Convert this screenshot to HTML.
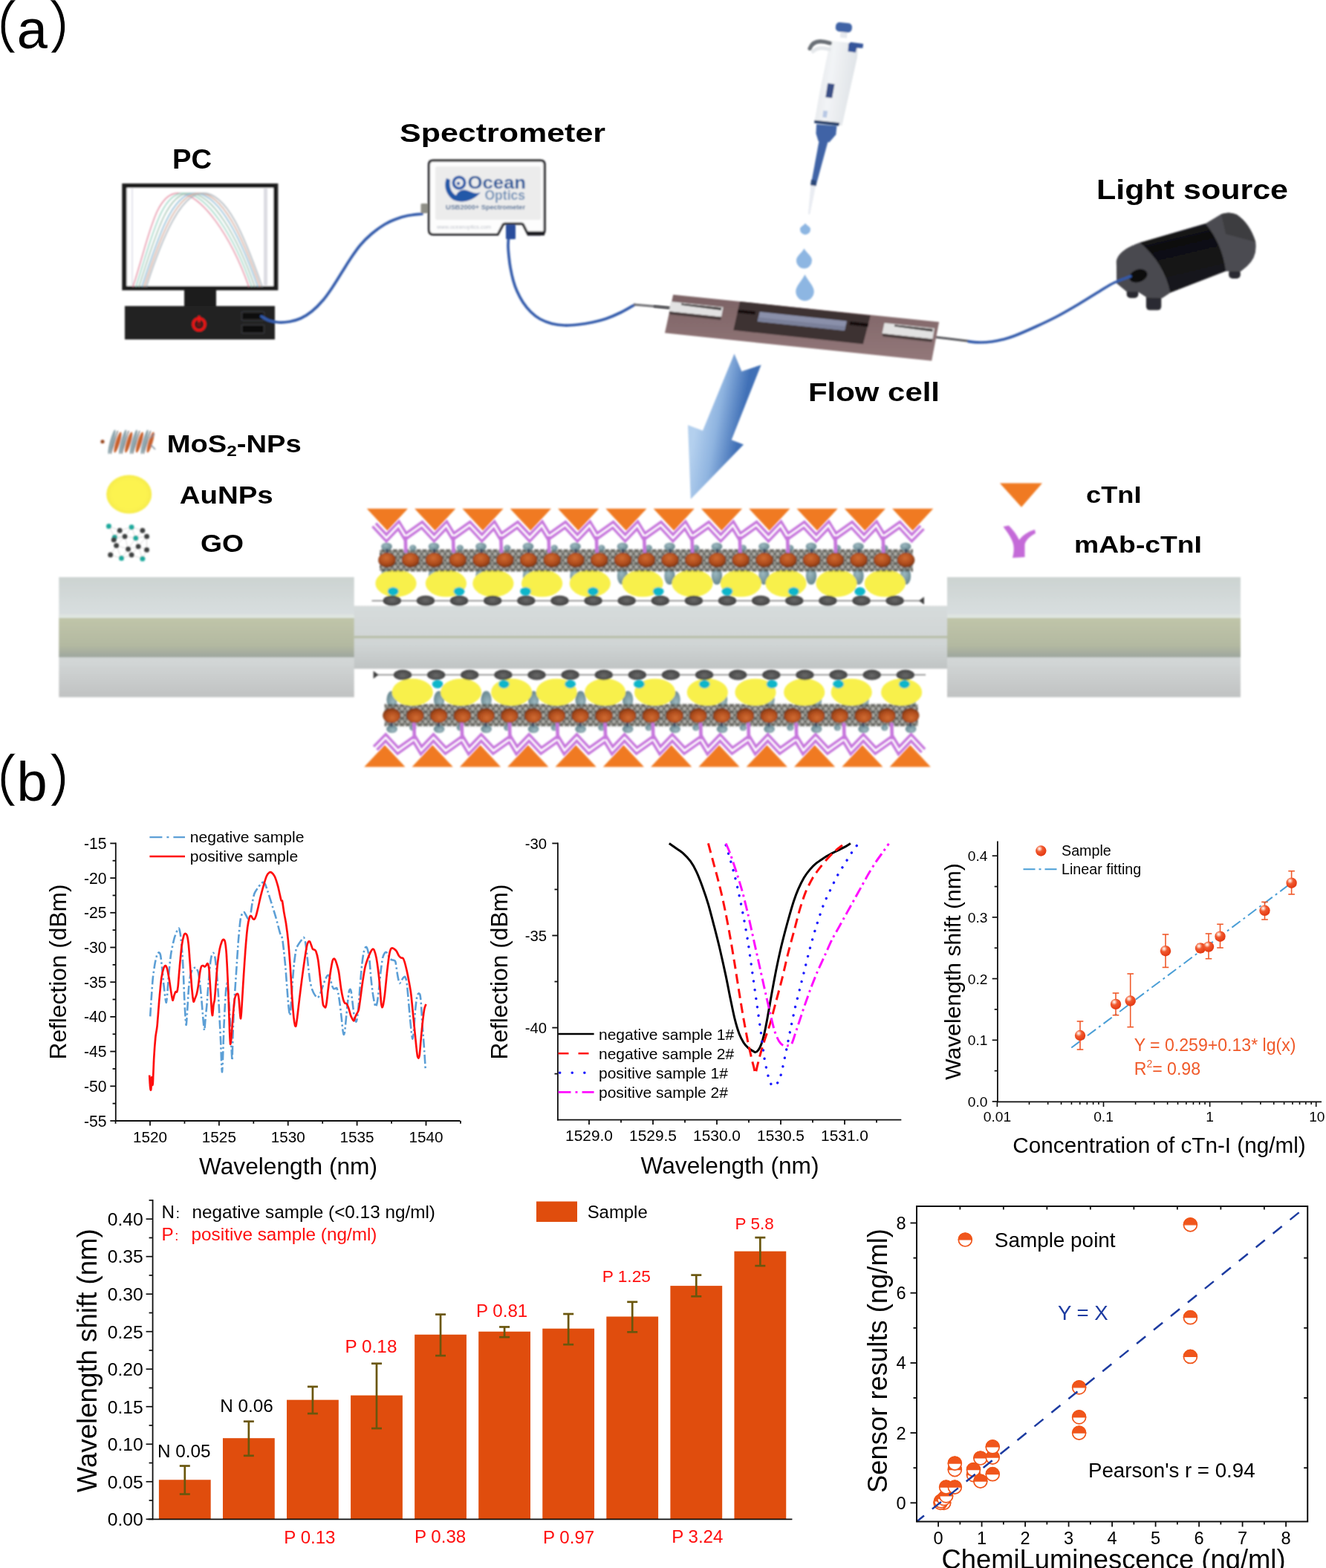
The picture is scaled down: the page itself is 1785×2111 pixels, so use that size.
<!DOCTYPE html>
<html lang="en"><head><meta charset="utf-8"><title>Figure</title>
<style>
html,body{margin:0;padding:0;background:#fff;}
body{width:1785px;height:2111px;overflow:hidden;}
svg{display:block;font-family:"Liberation Sans", Arial, Helvetica, sans-serif;}
</style></head><body>
<svg width="1785" height="2111" viewBox="0 0 1785 2111">
<defs>
<clipPath id="clipa"><rect x="0" y="0.3" width="100" height="70.4"/></clipPath>
<clipPath id="clipb"><rect x="0" y="1014.8" width="100" height="70"/></clipPath>
<filter id="soft" x="-5%" y="-5%" width="110%" height="110%"><feGaussianBlur stdDeviation="0.9"/></filter>
<filter id="soft2" x="-5%" y="-20%" width="110%" height="140%"><feGaussianBlur stdDeviation="0.6"/></filter>
<filter id="soft3" x="-5%" y="-5%" width="110%" height="110%"><feGaussianBlur stdDeviation="0.35"/></filter>
<linearGradient id="specg" x1="0" y1="0" x2="0" y2="1"><stop offset="0" stop-color="#ececee"/><stop offset="0.5" stop-color="#fafafa"/><stop offset="1" stop-color="#e4e4e6"/></linearGradient>
<linearGradient id="pipg" x1="0" y1="0" x2="1" y2="0.25"><stop offset="0" stop-color="#e0e4e8"/><stop offset="0.45" stop-color="#f2f4f6"/><stop offset="1" stop-color="#dfe3e7"/></linearGradient>
<linearGradient id="fcg" x1="0" y1="0" x2="0" y2="1"><stop offset="0" stop-color="#7c6264"/><stop offset="1" stop-color="#93787a"/></linearGradient>
<linearGradient id="lsg" x1="0" y1="0" x2="0.3" y2="1"><stop offset="0" stop-color="#2c2c30"/><stop offset="0.35" stop-color="#0e0e10"/><stop offset="1" stop-color="#1a1a1e"/></linearGradient>
<linearGradient id="arrg" x1="0" y1="0" x2="1" y2="0.35"><stop offset="0.25" stop-color="#b4d0ee"/><stop offset="0.5" stop-color="#8fb4e0"/><stop offset="0.8" stop-color="#3f6fb6"/></linearGradient>
<linearGradient id="thing" x1="0" y1="0" x2="0" y2="1"><stop offset="0" stop-color="#d6dbdb"/><stop offset="0.6" stop-color="#d0d5d5"/><stop offset="1" stop-color="#c0c4c4"/></linearGradient>
<linearGradient id="cladg" x1="0" y1="0" x2="0" y2="1"><stop offset="0" stop-color="#ccd3d1"/><stop offset="0.3" stop-color="#d8dedf"/><stop offset="0.7" stop-color="#d2d6d6"/><stop offset="1" stop-color="#c0c2c2"/></linearGradient>
<linearGradient id="coreg" x1="0" y1="0" x2="0" y2="1"><stop offset="0" stop-color="#c0c5a9"/><stop offset="0.7" stop-color="#b3b9a1"/><stop offset="1" stop-color="#9ea69e"/></linearGradient>
<radialGradient id="gog" cx="0.5" cy="0.45" r="0.6"><stop offset="0" stop-color="#6a6a6a"/><stop offset="1" stop-color="#3c3c3c"/></radialGradient>
<radialGradient id="gbg" cx="0.4" cy="0.35" r="0.7"><stop offset="0" stop-color="#9cb8c0"/><stop offset="1" stop-color="#64848c"/></radialGradient>
<radialGradient id="org" cx="0.45" cy="0.35" r="0.7"><stop offset="0" stop-color="#d06c32"/><stop offset="0.55" stop-color="#b24e1e"/><stop offset="1" stop-color="#743210"/></radialGradient>
<radialGradient id="aug" cx="0.5" cy="0.5" r="0.5"><stop offset="0.75" stop-color="#fcf350"/><stop offset="1" stop-color="#f6ec4c"/></radialGradient>
<radialGradient id="ball" cx="0.36" cy="0.3" r="0.75"><stop offset="0" stop-color="#fff"/><stop offset="0.16" stop-color="#fbc0ac"/><stop offset="0.38" stop-color="#f15a30"/><stop offset="1" stop-color="#e2340e"/></radialGradient>
<pattern id="mesh" width="7.925" height="8.75" patternUnits="userSpaceOnUse" x="512" y="737"><path d="M0 0 L7.925 8.75 M7.925 0 L0 8.75 M0 4.4 H7.925" stroke="#50504a" stroke-width="1.15" fill="none"/></pattern>
</defs>
<rect width="1785" height="2111" fill="#fff"/>
<g clip-path="url(#clipa)">
<text x="-57.3" y="68.1" font-size="84" font-family="'Liberation Sans','Noto Sans CJK SC',sans-serif" stroke="#fff" stroke-width="0.9">（</text>
<text x="62" y="68.1" font-size="84" font-family="'Liberation Sans','Noto Sans CJK SC',sans-serif" stroke="#fff" stroke-width="0.9">）</text>
</g>
<text x="22.8" y="64.6" font-size="74">a</text>
<g clip-path="url(#clipb)">
<text x="-57.3" y="1082.3" font-size="84" font-family="'Liberation Sans','Noto Sans CJK SC',sans-serif" stroke="#fff" stroke-width="0.9">（</text>
<text x="62" y="1082.3" font-size="84" font-family="'Liberation Sans','Noto Sans CJK SC',sans-serif" stroke="#fff" stroke-width="0.9">）</text>
</g>
<text x="22.5" y="1078" font-size="74">b</text>
<g filter="url(#soft)">
<rect x="164.3" y="247" width="210" height="143.8" fill="#1c1c1c"/>
<rect x="170.5" y="253" width="197.5" height="132" fill="#ffffff"/>
<rect x="177" y="254" width="2" height="130" fill="#e4e4ec"/>
<rect x="355" y="254" width="5" height="130" fill="#dcdce2"/>
<path d="M179 386 C201 318 209.4 260 239.4 260 C271.4 260 311 318 335 386" fill="none" stroke="#e890a8" stroke-width="1.8" opacity="0.95"/>
<path d="M183 386 C205 318 217 260 247 260 C279 260 315 318 339 386" fill="none" stroke="#9fd8c8" stroke-width="1.8" opacity="0.95"/>
<path d="M187 386 C209 318 224.6 260 254.6 260 C286.6 260 319 318 343 386" fill="none" stroke="#a8c8b8" stroke-width="1.8" opacity="0.95"/>
<path d="M191 386 C213 318 232.2 260 262.2 260 C294.2 260 323 318 347 386" fill="none" stroke="#8ec0d8" stroke-width="1.8" opacity="0.95"/>
<path d="M194 386 C216 318 237.9 260 267.9 260 C299.9 260 326 318 350 386" fill="none" stroke="#d8b0a0" stroke-width="1.8" opacity="0.95"/>
<path d="M197 386 C219 318 243.6 260 273.6 260 C305.6 260 329 318 353 386" fill="none" stroke="#b0b8c0" stroke-width="1.8" opacity="0.95"/>
<rect x="248" y="390" width="43" height="24" fill="#1c1c1c"/>
<rect x="168" y="412" width="202" height="45" fill="#222222"/>
<rect x="327" y="421.5" width="27" height="8" fill="#0c0c10" rx="1.5"/>
<rect x="327" y="439" width="27" height="8" fill="#0c0c10" rx="1.5"/>
<rect x="325" y="419.5" width="31" height="12" fill="none" rx="2" stroke="#33343a" stroke-width="1.5"/>
<rect x="325" y="437" width="31" height="12" fill="none" rx="2" stroke="#33343a" stroke-width="1.5"/>
<circle cx="268" cy="436.6" r="8" fill="none" stroke="#f01414" stroke-width="3.4"/>
<rect x="266.3" y="425" width="3.4" height="11" fill="#f01414" rx="1.5"/>
<circle cx="268" cy="437" r="3.6" fill="#6a1616"/>
<path d="M352 426 C353.67 426.92 358.17 430.17 362 431.5 C365.83 432.83 370.33 433.75 375 434 C379.67 434.25 385 433.92 390 433 C395 432.08 400 430.83 405 428.5 C410 426.17 415 423.08 420 419 C425 414.92 430.33 409.5 435 404 C439.67 398.5 443.73 392.33 448 386 C452.27 379.67 456.6 372.33 460.6 366 C464.6 359.67 467.93 354 472 348 C476.07 342 480.33 335.5 485 330 C489.67 324.5 494.5 319.67 500 315 C505.5 310.33 512.5 305.33 518 302 C523.5 298.67 528 296.92 533 295 C538 293.08 542.17 291.67 548 290.5 C553.83 289.33 564.67 288.42 568 288" fill="none" stroke="#335aaa" stroke-width="3.7" stroke-linecap="round"/>
<path d="M687.6 306 C687.17 308 685.6 314 685 318 C684.4 322 684 325.5 684 330 C684 334.5 684.5 340 685 345 C685.5 350 686 354.5 687 360 C688 365.5 689.5 372.67 691 378 C692.5 383.33 693.83 387.17 696 392 C698.17 396.83 700.9 402.33 704 407 C707.1 411.67 710.77 416.25 714.6 420 C718.43 423.75 722.27 426.88 727 429.5 C731.73 432.12 737.5 434.28 743 435.7 C748.5 437.12 754.17 437.78 760 438 C765.83 438.22 771.83 437.67 778 437 C784.17 436.33 790.67 435.33 797 434 C803.33 432.67 809.5 431.25 816 429 C822.5 426.75 829.67 423.58 836 420.5 C842.33 417.42 851 412.17 854 410.5" fill="none" stroke="#335aaa" stroke-width="3.7" stroke-linecap="round"/>
<line x1="853" y1="410" x2="905" y2="414.5" stroke="#6e6e72" stroke-width="3"/>
<path d="M583 216.2 H727.5 Q733.2 216.2 733.2 222 V309.5 Q733.2 315.7 727.5 315.7 H711 L705 303.5 Q704 301.2 701.5 301.2 H680 Q677.5 301.2 676.5 303.5 L670 315.7 H583 Q577.4 315.7 577.4 309.5 V222 Q577.4 216.2 583 216.2 Z" fill="#fdfdfd" stroke="#2a2a2e" stroke-width="3.2"/>
<rect x="586" y="224" width="142" height="72" fill="#ececec" rx="3"/>
<rect x="710" y="311.5" width="23" height="5.5" fill="#1e1e22"/>
<rect x="566.5" y="274" width="10" height="13" fill="#8e8e86" rx="1.5"/>
<rect x="681" y="302.5" width="13" height="19.5" fill="#2c4e9c" rx="1.5"/>
<path d="M601 240 C597 250 600 262 610 269 C620 274 636 272 647 259 C640 262 634 258 628 256 C622 254 616 258 614 263 C608 260 604 252 606 242 Z" fill="#2458a8"/>
<circle cx="618" cy="246" r="7.6" fill="none" stroke="#2458a8" stroke-width="3.8"/>
<circle cx="617" cy="247" r="2.2" fill="#2458a8"/>
<text x="629.5" y="254.3" font-size="23.5" font-weight="bold" fill="#2d5c9c" textLength="78.5" lengthAdjust="spacingAndGlyphs">Ocean</text>
<text x="652.5" y="268.8" font-size="18.5" font-weight="bold" fill="#7292b8" textLength="54.5" lengthAdjust="spacingAndGlyphs">Optics</text>
<text x="600" y="282" font-size="8.6" font-weight="bold" fill="#4f6f98" textLength="107" lengthAdjust="spacingAndGlyphs">USB2000+ Spectrometer</text>
<text x="588" y="307.5" font-size="7" fill="#c0c4cc" textLength="73" lengthAdjust="spacingAndGlyphs">www.oceanoptics.com</text>
</g>
<text x="232" y="227" font-size="37.5" font-weight="bold" textLength="53" lengthAdjust="spacingAndGlyphs" filter="url(#soft2)">PC</text>
<text x="538" y="191" font-size="35.8" font-weight="bold" textLength="277" lengthAdjust="spacingAndGlyphs" filter="url(#soft2)">Spectrometer</text>
<text x="1476" y="267.8" font-size="36.3" font-weight="bold" textLength="258" lengthAdjust="spacingAndGlyphs" filter="url(#soft2)">Light source</text>
<text x="1088" y="539.8" font-size="35" font-weight="bold" textLength="177" lengthAdjust="spacingAndGlyphs" filter="url(#soft2)">Flow cell</text>
<g filter="url(#soft)">
<path d="M1091.67 247.61 L1098.45 249.08 L1090.2 288.87 L1087.84 288.14 Z" fill="#e9ecf2"/>
<path d="M1102.73 188.65 L1114.66 190.13 L1098.45 249.82 L1091.67 248.78 Z" fill="#3f64a6"/>
<path d="M1092.11 241.71 L1099.04 243.18 L1098.45 250.55 L1091.08 249.37 Z" fill="#2a4678"/>
<path d="M1099.04 167.28 L1126.46 169.49 L1125.28 181.28 L1116.43 191.6 L1101.69 190.13 L1098.45 179.81" fill="#3f64a6"/>
<path d="M1117.91 54.83 L1155.05 58.95 L1154.02 76.64 L1133.38 169.2 L1096.54 163.3 L1103.17 125.28 L1112.01 82.54 Z" fill="url(#pipg)"/>
<path d="M1096.54 161.83 L1129.99 165.36 L1129.4 169.49 L1096.09 165.66 Z" fill="#263f6a"/>
<path d="M1114.22 112.01 L1123.51 113.19 L1120.12 131.91 L1111.27 130.88 Z" fill="#3a4f86"/>
<path d="M1108.33 148.86 L1114.22 149.59 L1112.75 158.44 L1107.3 157.7 Z" fill="#b8c8e4"/>
<path d="M1131.91 40.53 L1140.75 41.56 L1140.01 51.58 L1130.88 50.55 Z" fill="#e6e9ee"/>
<rect x="1124.89" y="30.65" width="22" height="12.4" rx="5" fill="#3f64a6" transform="rotate(6 1135.89 36.85)"/>
<path d="M1145.17 56.74 L1162.12 58.95 L1161.39 64.85 L1153.28 64.55 L1151.81 70.74 L1141.49 69.27 L1142.23 58.95 Z" fill="#34559a"/>
<path d="M1090.2 65.14 Q1095.8 50.85 1117.17 58.22" fill="none" stroke="#6a7076" stroke-width="5.5" stroke-linecap="round"/>
<path d="M1094.33 69.27 Q1101.69 61.9 1116.43 66.32" fill="none" stroke="#e4e7ea" stroke-width="5" stroke-linecap="round"/>
<path d="M1084 300.5 C1086.45 304.38 1091 304.8 1091 308.65 A7 7.35 0 0 1 1077 308.65 C1077 304.8 1081.55 304.38 1084 300.5 Z" fill="#8db6e2"/>
<path d="M1082.5 334.5 C1086.17 341.25 1093 344.7 1093 350.48 A10.5 11.03 0 0 1 1072 350.48 C1072 344.7 1078.83 341.25 1082.5 334.5 Z" fill="#8db6e2"/>
<path d="M1083.5 369.5 C1087.79 378.38 1095.75 385.4 1095.75 392.14 A12.25 12.86 0 0 1 1071.25 392.14 C1071.25 385.4 1079.21 378.38 1083.5 369.5 Z" fill="#8db6e2"/>
<line x1="880" y1="412.6" x2="905" y2="415" stroke="#55555a" stroke-width="3"/>
<line x1="1256" y1="453.5" x2="1306" y2="459.5" stroke="#55555a" stroke-width="3"/>
<path d="M906.19 396.71 L1264.14 433.38 L1254.16 485.76 L894.97 448.35 Z" fill="url(#fcg)"/>
<path d="M995.99 405.94 L1171.84 424.65 L1161.87 463.32 L987.26 444.61 Z" fill="#3c3030"/>
<path d="M993.49 416.67 L1017.19 419.16 L1016.19 423.4 L992.5 420.91 Z" fill="#141010"/>
<path d="M1144.41 432.63 L1169.35 435.38 L1168.35 440.12 L1143.41 437.37 Z" fill="#141010"/>
<path d="M1022.68 419.66 L1139.92 432.14 L1136.92 445.11 L1019.69 432.63 Z" fill="#8a90aa"/>
<path d="M1020.93 427.15 L1138.42 439.62 L1136.92 445.11 L1019.69 432.63 Z" fill="#7a809a"/>
<path d="M902.95 405.94 L973.54 413.43 L971.05 426.65 L900.7 419.16 Z" fill="#e2e2e2"/>
<path d="M917.07 408.44 L971.42 414.2 L970.72 417.73 L917.07 410.84 Z" fill="#3a3434"/>
<path d="M900.7 419.16 L971.05 426.65 L970.05 430.65 L901.7 423.16 Z" fill="#4a3e3e"/>
<path d="M1190.55 434.63 L1257.9 442.11 L1255.41 456.58 L1187.56 449.1 Z" fill="#e2e2e2"/>
<path d="M1204.02 437.13 L1255.88 442.89 L1255.21 446.41 L1204.02 439.53 Z" fill="#3a3434"/>
<path d="M1187.56 449.1 L1255.41 456.58 L1254.41 460.58 L1188.56 453.1 Z" fill="#4a3e3e"/>
<rect x="1516.73" y="387.01" width="15.65" height="14.29" fill="#2c2c30" rx="5"/>
<rect x="1542.86" y="395.17" width="20.41" height="22.45" fill="#2c2c30" rx="5"/>
<rect x="1654.15" y="362.52" width="15.65" height="12.52" fill="#2c2c30" rx="5"/>
<path d="M 1502.86 351.63 Q 1505.85 336.67 1534.42 326.87 L 1622.86 301.02 L 1643.95 288.37 Q 1655.51 284.29 1665.03 289.05 Q 1682.72 301.29 1690.2 325.78 Q 1692.93 346.19 1678.64 358.44 L 1670.48 365.24 L 1650.07 365.24 L 1575.24 394.08 L 1564.35 401.29 L 1543.95 400.61 L 1531.7 392.45 L 1516.73 392.45 L 1503.4 381.56 Z" fill="#4c4c51"/>
<path d="M 1534.42 326.87 L 1622.86 301.02 Q 1645.31 328.5 1650.07 364.56 L 1575.24 394.08 Q 1567.07 354.35 1534.42 326.87 Z" fill="url(#lsg)"/>
<path d="M 1643.95 288.37 Q 1655.51 284.29 1665.03 289.05 Q 1682.72 301.29 1690.2 325.78 L 1650.07 314.9 Z" fill="#3c3c40"/>
<path d="M 1502.86 351.63 Q 1505.85 336.67 1534.42 326.87 Q 1556.19 346.19 1567.07 376.12 L 1575.24 394.08 L 1564.35 401.29 L 1543.95 400.61 L 1531.7 392.45 L 1516.73 392.45 L 1503.4 381.56 Z" fill="#4a4a4f"/>
<ellipse cx="1532.38" cy="371.36" rx="12.5" ry="8.5" fill="#08080a" transform="rotate(-20 1532.38 371.36)"/>
<path d="M1304 459.8 C1306.67 460 1314.83 460.97 1320 461 C1325.17 461.03 1330 460.67 1335 460 C1340 459.33 1344.83 458.33 1350 457 C1355.17 455.67 1358.5 454.92 1366 452 C1373.5 449.08 1385.5 443.83 1395 439.5 C1404.5 435.17 1413.5 431 1423 426 C1432.5 421 1442.43 415.17 1452 409.5 C1461.57 403.83 1472.4 396.83 1480.4 392 C1488.4 387.17 1493.07 383.83 1500 380.5 C1506.93 377.17 1518.33 373.42 1522 372" fill="none" stroke="#335aaa" stroke-width="3.6" stroke-linecap="round"/>
<path d="M988.5 476.2 L998.4 499.9 L1024.6 491.2 L984.7 592.2 L1001 598.4 L929.8 672 L926 572.2 L946 579.7 Z" fill="url(#arrg)"/>
</g>
<g filter="url(#soft)">
<rect x="470" y="815.6" width="812" height="84.8" fill="url(#thing)"/>
<rect x="470" y="856" width="812" height="3.3" fill="#b8bfa9"/>
<rect x="79.3" y="777" width="397.4" height="161.6" fill="url(#cladg)"/>
<rect x="79.3" y="827.4" width="397.4" height="5" fill="#dfe5e1"/>
<rect x="79.3" y="832" width="397.4" height="52.9" fill="url(#coreg)"/>
<rect x="1275" y="777" width="395" height="161.6" fill="url(#cladg)"/>
<rect x="1275" y="827.4" width="395" height="5" fill="#dfe5e1"/>
<rect x="1275" y="832" width="395" height="52.9" fill="url(#coreg)"/>
<g id="layB"><ellipse cx="520.5" cy="775.5" rx="7.2" ry="11.5" fill="url(#gbg)"/>
<ellipse cx="584" cy="775.5" rx="7.2" ry="11.5" fill="url(#gbg)"/>
<ellipse cx="647.5" cy="775.5" rx="7.2" ry="11.5" fill="url(#gbg)"/>
<ellipse cx="711" cy="775.5" rx="7.2" ry="11.5" fill="url(#gbg)"/>
<ellipse cx="774.5" cy="775.5" rx="7.2" ry="11.5" fill="url(#gbg)"/>
<ellipse cx="838" cy="775.5" rx="7.2" ry="11.5" fill="url(#gbg)"/>
<ellipse cx="901.5" cy="775.5" rx="7.2" ry="11.5" fill="url(#gbg)"/>
<ellipse cx="965" cy="775.5" rx="7.2" ry="11.5" fill="url(#gbg)"/>
<ellipse cx="1028.5" cy="775.5" rx="7.2" ry="11.5" fill="url(#gbg)"/>
<ellipse cx="1092" cy="775.5" rx="7.2" ry="11.5" fill="url(#gbg)"/>
<ellipse cx="1155.5" cy="775.5" rx="7.2" ry="11.5" fill="url(#gbg)"/>
<ellipse cx="1219" cy="775.5" rx="7.2" ry="11.5" fill="url(#gbg)"/></g><g id="layY"><ellipse cx="533" cy="785.4" rx="27.6" ry="18.2" fill="#f8f04c"/>
<ellipse cx="600.4" cy="785.4" rx="27.6" ry="18.2" fill="#f8f04c"/>
<ellipse cx="663.9" cy="785.4" rx="27.6" ry="18.2" fill="#f8f04c"/>
<ellipse cx="729.6" cy="785.4" rx="27.6" ry="18.2" fill="#f8f04c"/>
<ellipse cx="794.3" cy="785.4" rx="27.6" ry="18.2" fill="#f8f04c"/>
<ellipse cx="865" cy="785.4" rx="27.6" ry="18.2" fill="#f8f04c"/>
<ellipse cx="932" cy="785.4" rx="27.6" ry="18.2" fill="#f8f04c"/>
<ellipse cx="997.4" cy="785.4" rx="27.6" ry="18.2" fill="#f8f04c"/>
<ellipse cx="1058" cy="785.4" rx="27.6" ry="18.2" fill="#f8f04c"/>
<ellipse cx="1126" cy="785.4" rx="27.6" ry="18.2" fill="#f8f04c"/>
<ellipse cx="1191.4" cy="785.4" rx="27.6" ry="18.2" fill="#f8f04c"/></g><g id="layA"><line x1="500.5" y1="808.8" x2="1240" y2="808.8" stroke="#7e7e7e" stroke-width="1.6"/>
<path d="M1244 803.6 L1244 814 L1237 808.8 Z" fill="#404040"/>
<ellipse cx="527.8" cy="808.7" rx="12.2" ry="7" fill="url(#gog)"/>
<ellipse cx="572.92" cy="808.7" rx="12.2" ry="7" fill="url(#gog)"/>
<ellipse cx="618.04" cy="808.7" rx="12.2" ry="7" fill="url(#gog)"/>
<ellipse cx="663.16" cy="808.7" rx="12.2" ry="7" fill="url(#gog)"/>
<ellipse cx="708.28" cy="808.7" rx="12.2" ry="7" fill="url(#gog)"/>
<ellipse cx="753.4" cy="808.7" rx="12.2" ry="7" fill="url(#gog)"/>
<ellipse cx="798.52" cy="808.7" rx="12.2" ry="7" fill="url(#gog)"/>
<ellipse cx="843.64" cy="808.7" rx="12.2" ry="7" fill="url(#gog)"/>
<ellipse cx="888.76" cy="808.7" rx="12.2" ry="7" fill="url(#gog)"/>
<ellipse cx="933.88" cy="808.7" rx="12.2" ry="7" fill="url(#gog)"/>
<ellipse cx="979" cy="808.7" rx="12.2" ry="7" fill="url(#gog)"/>
<ellipse cx="1024.12" cy="808.7" rx="12.2" ry="7" fill="url(#gog)"/>
<ellipse cx="1069.24" cy="808.7" rx="12.2" ry="7" fill="url(#gog)"/>
<ellipse cx="1114.36" cy="808.7" rx="12.2" ry="7" fill="url(#gog)"/>
<ellipse cx="1159.48" cy="808.7" rx="12.2" ry="7" fill="url(#gog)"/>
<ellipse cx="1204.6" cy="808.7" rx="12.2" ry="7" fill="url(#gog)"/>
<ellipse cx="529.2" cy="796.2" rx="7.4" ry="5.6" fill="#10b6ca"/>
<ellipse cx="618" cy="796.2" rx="7.4" ry="5.6" fill="#10b6ca"/>
<ellipse cx="707.5" cy="796.2" rx="7.4" ry="5.6" fill="#10b6ca"/>
<ellipse cx="798.3" cy="796.2" rx="7.4" ry="5.6" fill="#10b6ca"/>
<ellipse cx="886.2" cy="796.2" rx="7.4" ry="5.6" fill="#10b6ca"/>
<ellipse cx="979" cy="796.2" rx="7.4" ry="5.6" fill="#10b6ca"/>
<ellipse cx="1068.3" cy="796.2" rx="7.4" ry="5.6" fill="#10b6ca"/>
<ellipse cx="1157.5" cy="796.2" rx="7.4" ry="5.6" fill="#10b6ca"/></g><g id="layM"><rect x="511" y="741" width="718" height="27" fill="#94948e" opacity="0.75"/>
<rect x="511" y="739" width="718" height="31" fill="url(#mesh)"/>
<ellipse cx="520.5" cy="735.8" rx="7.4" ry="5.2" fill="url(#gbg)"/>
<rect x="519.6" y="739" width="2.8" height="8" fill="#3a4660"/>
<ellipse cx="555.75" cy="737.5" rx="4.6" ry="4" fill="url(#gbg)"/>
<ellipse cx="584" cy="735.8" rx="7.4" ry="5.2" fill="url(#gbg)"/>
<rect x="583.1" y="739" width="2.8" height="8" fill="#3a4660"/>
<ellipse cx="619.25" cy="737.5" rx="4.6" ry="4" fill="url(#gbg)"/>
<ellipse cx="647.5" cy="735.8" rx="7.4" ry="5.2" fill="url(#gbg)"/>
<rect x="646.6" y="739" width="2.8" height="8" fill="#3a4660"/>
<ellipse cx="682.75" cy="737.5" rx="4.6" ry="4" fill="url(#gbg)"/>
<ellipse cx="711" cy="735.8" rx="7.4" ry="5.2" fill="url(#gbg)"/>
<rect x="710.1" y="739" width="2.8" height="8" fill="#3a4660"/>
<ellipse cx="746.25" cy="737.5" rx="4.6" ry="4" fill="url(#gbg)"/>
<ellipse cx="774.5" cy="735.8" rx="7.4" ry="5.2" fill="url(#gbg)"/>
<rect x="773.6" y="739" width="2.8" height="8" fill="#3a4660"/>
<ellipse cx="809.75" cy="737.5" rx="4.6" ry="4" fill="url(#gbg)"/>
<ellipse cx="838" cy="735.8" rx="7.4" ry="5.2" fill="url(#gbg)"/>
<rect x="837.1" y="739" width="2.8" height="8" fill="#3a4660"/>
<ellipse cx="873.25" cy="737.5" rx="4.6" ry="4" fill="url(#gbg)"/>
<ellipse cx="901.5" cy="735.8" rx="7.4" ry="5.2" fill="url(#gbg)"/>
<rect x="900.6" y="739" width="2.8" height="8" fill="#3a4660"/>
<ellipse cx="936.75" cy="737.5" rx="4.6" ry="4" fill="url(#gbg)"/>
<ellipse cx="965" cy="735.8" rx="7.4" ry="5.2" fill="url(#gbg)"/>
<rect x="964.1" y="739" width="2.8" height="8" fill="#3a4660"/>
<ellipse cx="1000.25" cy="737.5" rx="4.6" ry="4" fill="url(#gbg)"/>
<ellipse cx="1028.5" cy="735.8" rx="7.4" ry="5.2" fill="url(#gbg)"/>
<rect x="1027.6" y="739" width="2.8" height="8" fill="#3a4660"/>
<ellipse cx="1063.75" cy="737.5" rx="4.6" ry="4" fill="url(#gbg)"/>
<ellipse cx="1092" cy="735.8" rx="7.4" ry="5.2" fill="url(#gbg)"/>
<rect x="1091.1" y="739" width="2.8" height="8" fill="#3a4660"/>
<ellipse cx="1127.25" cy="737.5" rx="4.6" ry="4" fill="url(#gbg)"/>
<ellipse cx="1155.5" cy="735.8" rx="7.4" ry="5.2" fill="url(#gbg)"/>
<rect x="1154.6" y="739" width="2.8" height="8" fill="#3a4660"/>
<ellipse cx="1190.75" cy="737.5" rx="4.6" ry="4" fill="url(#gbg)"/>
<ellipse cx="1219" cy="735.8" rx="7.4" ry="5.2" fill="url(#gbg)"/>
<rect x="1218.1" y="739" width="2.8" height="8" fill="#3a4660"/>
<ellipse cx="521" cy="754" rx="11.6" ry="9.8" fill="url(#org)" stroke="#5a3018" stroke-width="0.8" stroke-opacity="0.6"/>
<ellipse cx="552.75" cy="754" rx="11.6" ry="9.8" fill="url(#org)" stroke="#5a3018" stroke-width="0.8" stroke-opacity="0.6"/>
<ellipse cx="584.5" cy="754" rx="11.6" ry="9.8" fill="url(#org)" stroke="#5a3018" stroke-width="0.8" stroke-opacity="0.6"/>
<ellipse cx="616.25" cy="754" rx="11.6" ry="9.8" fill="url(#org)" stroke="#5a3018" stroke-width="0.8" stroke-opacity="0.6"/>
<ellipse cx="648" cy="754" rx="11.6" ry="9.8" fill="url(#org)" stroke="#5a3018" stroke-width="0.8" stroke-opacity="0.6"/>
<ellipse cx="679.75" cy="754" rx="11.6" ry="9.8" fill="url(#org)" stroke="#5a3018" stroke-width="0.8" stroke-opacity="0.6"/>
<ellipse cx="711.5" cy="754" rx="11.6" ry="9.8" fill="url(#org)" stroke="#5a3018" stroke-width="0.8" stroke-opacity="0.6"/>
<ellipse cx="743.25" cy="754" rx="11.6" ry="9.8" fill="url(#org)" stroke="#5a3018" stroke-width="0.8" stroke-opacity="0.6"/>
<ellipse cx="775" cy="754" rx="11.6" ry="9.8" fill="url(#org)" stroke="#5a3018" stroke-width="0.8" stroke-opacity="0.6"/>
<ellipse cx="806.75" cy="754" rx="11.6" ry="9.8" fill="url(#org)" stroke="#5a3018" stroke-width="0.8" stroke-opacity="0.6"/>
<ellipse cx="838.5" cy="754" rx="11.6" ry="9.8" fill="url(#org)" stroke="#5a3018" stroke-width="0.8" stroke-opacity="0.6"/>
<ellipse cx="870.25" cy="754" rx="11.6" ry="9.8" fill="url(#org)" stroke="#5a3018" stroke-width="0.8" stroke-opacity="0.6"/>
<ellipse cx="902" cy="754" rx="11.6" ry="9.8" fill="url(#org)" stroke="#5a3018" stroke-width="0.8" stroke-opacity="0.6"/>
<ellipse cx="933.75" cy="754" rx="11.6" ry="9.8" fill="url(#org)" stroke="#5a3018" stroke-width="0.8" stroke-opacity="0.6"/>
<ellipse cx="965.5" cy="754" rx="11.6" ry="9.8" fill="url(#org)" stroke="#5a3018" stroke-width="0.8" stroke-opacity="0.6"/>
<ellipse cx="997.25" cy="754" rx="11.6" ry="9.8" fill="url(#org)" stroke="#5a3018" stroke-width="0.8" stroke-opacity="0.6"/>
<ellipse cx="1029" cy="754" rx="11.6" ry="9.8" fill="url(#org)" stroke="#5a3018" stroke-width="0.8" stroke-opacity="0.6"/>
<ellipse cx="1060.75" cy="754" rx="11.6" ry="9.8" fill="url(#org)" stroke="#5a3018" stroke-width="0.8" stroke-opacity="0.6"/>
<ellipse cx="1092.5" cy="754" rx="11.6" ry="9.8" fill="url(#org)" stroke="#5a3018" stroke-width="0.8" stroke-opacity="0.6"/>
<ellipse cx="1124.25" cy="754" rx="11.6" ry="9.8" fill="url(#org)" stroke="#5a3018" stroke-width="0.8" stroke-opacity="0.6"/>
<ellipse cx="1156" cy="754" rx="11.6" ry="9.8" fill="url(#org)" stroke="#5a3018" stroke-width="0.8" stroke-opacity="0.6"/>
<ellipse cx="1187.75" cy="754" rx="11.6" ry="9.8" fill="url(#org)" stroke="#5a3018" stroke-width="0.8" stroke-opacity="0.6"/>
<ellipse cx="1219.5" cy="754" rx="11.6" ry="9.8" fill="url(#org)" stroke="#5a3018" stroke-width="0.8" stroke-opacity="0.6"/></g><g id="layP"><path d="M505.97 704.49 L520.13 719.77 L537.15 701.93 L546.82 717.84 L568.42 702.5 L584.43 719.77 L601.45 701.93 L611.12 717.84 L632.72 702.5 L648.73 719.77 L665.75 701.93 L675.42 717.84 L697.02 702.5 L713.03 719.77 L730.05 701.93 L739.72 717.84 L761.32 702.5 L777.33 719.77 L794.35 701.93 L804.02 717.84 L825.62 702.5 L841.63 719.77 L858.65 701.93 L868.32 717.84 L889.92 702.5 L905.93 719.77 L922.95 701.93 L932.62 717.84 L954.22 702.5 L970.23 719.77 L987.25 701.93 L996.92 717.84 L1018.52 702.5 L1034.53 719.77 L1051.55 701.93 L1061.22 717.84 L1082.82 702.5 L1098.83 719.77 L1115.85 701.93 L1125.52 717.84 L1147.12 702.5 L1163.13 719.77 L1180.15 701.93 L1189.82 717.84 L1211.42 702.5 L1227.46 719.81 L1239.18 707.83" fill="none" stroke="#c676dc" stroke-width="3.4" stroke-linejoin="miter" stroke-miterlimit="6"/>
<path d="M501.43 708.71 L520.07 728.83 L536.05 712.07 L544.98 726.76 L567.58 710.7 L584.37 728.83 L600.35 712.07 L609.28 726.76 L631.88 710.7 L648.67 728.83 L664.65 712.07 L673.58 726.76 L696.18 710.7 L712.97 728.83 L728.95 712.07 L737.88 726.76 L760.48 710.7 L777.27 728.83 L793.25 712.07 L802.18 726.76 L824.78 710.7 L841.57 728.83 L857.55 712.07 L866.48 726.76 L889.08 710.7 L905.87 728.83 L921.85 712.07 L930.78 726.76 L953.38 710.7 L970.17 728.83 L986.15 712.07 L995.08 726.76 L1017.68 710.7 L1034.47 728.83 L1050.45 712.07 L1059.38 726.76 L1081.98 710.7 L1098.77 728.83 L1114.75 712.07 L1123.68 726.76 L1146.28 710.7 L1163.07 728.83 L1179.05 712.07 L1187.98 726.76 L1210.58 710.7 L1227.34 728.79 L1243.62 712.17" fill="none" stroke="#c676dc" stroke-width="3.4" stroke-linejoin="miter" stroke-miterlimit="6"/>
<path d="M545.7 722 L546.3 744" fill="none" stroke="#c676dc" stroke-width="4.6"/>
<path d="M610 722 L610.6 744" fill="none" stroke="#c676dc" stroke-width="4.6"/>
<path d="M674.3 722 L674.9 744" fill="none" stroke="#c676dc" stroke-width="4.6"/>
<path d="M738.6 722 L739.2 744" fill="none" stroke="#c676dc" stroke-width="4.6"/>
<path d="M802.9 722 L803.5 744" fill="none" stroke="#c676dc" stroke-width="4.6"/>
<path d="M867.2 722 L867.8 744" fill="none" stroke="#c676dc" stroke-width="4.6"/>
<path d="M931.5 722 L932.1 744" fill="none" stroke="#c676dc" stroke-width="4.6"/>
<path d="M995.8 722 L996.4 744" fill="none" stroke="#c676dc" stroke-width="4.6"/>
<path d="M1060.1 722 L1060.7 744" fill="none" stroke="#c676dc" stroke-width="4.6"/>
<path d="M1124.4 722 L1125 744" fill="none" stroke="#c676dc" stroke-width="4.6"/>
<path d="M1188.7 722 L1189.3 744" fill="none" stroke="#c676dc" stroke-width="4.6"/>
<path d="M493.8 684.7 L549 684.7 L521.4 714.4 Z" fill="#f07a22"/>
<path d="M558.1 684.7 L613.3 684.7 L585.7 714.4 Z" fill="#f07a22"/>
<path d="M622.4 684.7 L677.6 684.7 L650 714.4 Z" fill="#f07a22"/>
<path d="M686.7 684.7 L741.9 684.7 L714.3 714.4 Z" fill="#f07a22"/>
<path d="M751 684.7 L806.2 684.7 L778.6 714.4 Z" fill="#f07a22"/>
<path d="M815.3 684.7 L870.5 684.7 L842.9 714.4 Z" fill="#f07a22"/>
<path d="M879.6 684.7 L934.8 684.7 L907.2 714.4 Z" fill="#f07a22"/>
<path d="M943.9 684.7 L999.1 684.7 L971.5 714.4 Z" fill="#f07a22"/>
<path d="M1008.2 684.7 L1063.4 684.7 L1035.8 714.4 Z" fill="#f07a22"/>
<path d="M1072.5 684.7 L1127.7 684.7 L1100.1 714.4 Z" fill="#f07a22"/>
<path d="M1136.8 684.7 L1192 684.7 L1164.4 714.4 Z" fill="#f07a22"/>
<path d="M1201.1 684.7 L1256.3 684.7 L1228.7 714.4 Z" fill="#f07a22"/></g>
<use href="#layB" transform="rotate(180 873.3 858.65)"/><use href="#layM" transform="rotate(180 873.3 858.65)"/><use href="#layY" transform="rotate(180 873.3 858.65)"/><use href="#layA" transform="rotate(180 873.3 858.65)"/><use href="#layP" transform="rotate(180 873.3 858.65)"/>
<ellipse cx="158.5" cy="595.5" rx="2.9" ry="14.5" fill="#c8622e" transform="rotate(17 158.5 595.5)"/>
<ellipse cx="173.2" cy="595.5" rx="2.9" ry="14.5" fill="#c8622e" transform="rotate(17 173.2 595.5)"/>
<ellipse cx="187.9" cy="595.5" rx="2.9" ry="14.5" fill="#c8622e" transform="rotate(17 187.9 595.5)"/>
<ellipse cx="202.6" cy="595.5" rx="2.9" ry="14.5" fill="#c8622e" transform="rotate(17 202.6 595.5)"/>
<ellipse cx="150.5" cy="595" rx="2.7" ry="17" fill="#8fa6ae" transform="rotate(15 150.5 595)"/>
<path d="M149 611 L158.5 580" stroke="#565a5c" stroke-width="1.1"/>
<ellipse cx="165.2" cy="595" rx="2.7" ry="17" fill="#8fa6ae" transform="rotate(15 165.2 595)"/>
<path d="M163.7 611 L173.2 580" stroke="#565a5c" stroke-width="1.1"/>
<ellipse cx="179.9" cy="595" rx="2.7" ry="17" fill="#8fa6ae" transform="rotate(15 179.9 595)"/>
<path d="M178.4 611 L187.9 580" stroke="#565a5c" stroke-width="1.1"/>
<ellipse cx="194.6" cy="595" rx="2.7" ry="17" fill="#8fa6ae" transform="rotate(15 194.6 595)"/>
<path d="M193.1 611 L202.6 580" stroke="#565a5c" stroke-width="1.1"/>
<circle cx="138" cy="594.5" r="2.6" fill="#9a4a20"/>
<line x1="202" y1="590" x2="208" y2="584" stroke="#7a8a96" stroke-width="1.6"/>
<line x1="203" y1="599" x2="209" y2="605" stroke="#7a8a96" stroke-width="1.6"/>
<ellipse cx="173.7" cy="665.4" rx="30.5" ry="26" fill="url(#aug)"/>
<line x1="146.49" y1="708.53" x2="161.22" y2="714.2" stroke="#d4d0d0" stroke-width="0.8"/>
<line x1="146.49" y1="708.53" x2="154.42" y2="723.27" stroke="#d4d0d0" stroke-width="0.8"/>
<line x1="161.22" y1="714.2" x2="177.1" y2="709.66" stroke="#d4d0d0" stroke-width="0.8"/>
<line x1="161.22" y1="714.2" x2="168.03" y2="722.13" stroke="#d4d0d0" stroke-width="0.8"/>
<line x1="161.22" y1="714.2" x2="154.42" y2="723.27" stroke="#d4d0d0" stroke-width="0.8"/>
<line x1="161.22" y1="714.2" x2="153.29" y2="726.67" stroke="#d4d0d0" stroke-width="0.8"/>
<line x1="177.1" y1="709.66" x2="191.84" y2="714.2" stroke="#d4d0d0" stroke-width="0.8"/>
<line x1="177.1" y1="709.66" x2="168.03" y2="722.13" stroke="#d4d0d0" stroke-width="0.8"/>
<line x1="177.1" y1="709.66" x2="182.77" y2="724.4" stroke="#d4d0d0" stroke-width="0.8"/>
<line x1="191.84" y1="714.2" x2="182.77" y2="724.4" stroke="#d4d0d0" stroke-width="0.8"/>
<line x1="191.84" y1="714.2" x2="197.51" y2="722.13" stroke="#d4d0d0" stroke-width="0.8"/>
<line x1="168.03" y1="722.13" x2="182.77" y2="724.4" stroke="#d4d0d0" stroke-width="0.8"/>
<line x1="168.03" y1="722.13" x2="154.42" y2="723.27" stroke="#d4d0d0" stroke-width="0.8"/>
<line x1="168.03" y1="722.13" x2="153.29" y2="726.67" stroke="#d4d0d0" stroke-width="0.8"/>
<line x1="168.03" y1="722.13" x2="156.69" y2="734.6" stroke="#d4d0d0" stroke-width="0.8"/>
<line x1="168.03" y1="722.13" x2="172.56" y2="739.14" stroke="#d4d0d0" stroke-width="0.8"/>
<line x1="182.77" y1="724.4" x2="197.51" y2="722.13" stroke="#d4d0d0" stroke-width="0.8"/>
<line x1="182.77" y1="724.4" x2="172.56" y2="739.14" stroke="#d4d0d0" stroke-width="0.8"/>
<line x1="182.77" y1="724.4" x2="186.17" y2="735.74" stroke="#d4d0d0" stroke-width="0.8"/>
<line x1="197.51" y1="722.13" x2="186.17" y2="735.74" stroke="#d4d0d0" stroke-width="0.8"/>
<line x1="197.51" y1="722.13" x2="197.51" y2="740.27" stroke="#d4d0d0" stroke-width="0.8"/>
<line x1="154.42" y1="723.27" x2="153.29" y2="726.67" stroke="#d4d0d0" stroke-width="0.8"/>
<line x1="154.42" y1="723.27" x2="156.69" y2="734.6" stroke="#d4d0d0" stroke-width="0.8"/>
<line x1="153.29" y1="726.67" x2="156.69" y2="734.6" stroke="#d4d0d0" stroke-width="0.8"/>
<line x1="156.69" y1="734.6" x2="172.56" y2="739.14" stroke="#d4d0d0" stroke-width="0.8"/>
<line x1="156.69" y1="734.6" x2="148.75" y2="747.07" stroke="#d4d0d0" stroke-width="0.8"/>
<line x1="156.69" y1="734.6" x2="163.49" y2="751.61" stroke="#d4d0d0" stroke-width="0.8"/>
<line x1="172.56" y1="739.14" x2="186.17" y2="735.74" stroke="#d4d0d0" stroke-width="0.8"/>
<line x1="172.56" y1="739.14" x2="163.49" y2="751.61" stroke="#d4d0d0" stroke-width="0.8"/>
<line x1="172.56" y1="739.14" x2="177.1" y2="747.07" stroke="#d4d0d0" stroke-width="0.8"/>
<line x1="186.17" y1="735.74" x2="197.51" y2="740.27" stroke="#d4d0d0" stroke-width="0.8"/>
<line x1="186.17" y1="735.74" x2="177.1" y2="747.07" stroke="#d4d0d0" stroke-width="0.8"/>
<line x1="186.17" y1="735.74" x2="191.84" y2="752.29" stroke="#d4d0d0" stroke-width="0.8"/>
<line x1="197.51" y1="740.27" x2="191.84" y2="752.29" stroke="#d4d0d0" stroke-width="0.8"/>
<line x1="148.75" y1="747.07" x2="163.49" y2="751.61" stroke="#d4d0d0" stroke-width="0.8"/>
<line x1="163.49" y1="751.61" x2="177.1" y2="747.07" stroke="#d4d0d0" stroke-width="0.8"/>
<line x1="177.1" y1="747.07" x2="191.84" y2="752.29" stroke="#d4d0d0" stroke-width="0.8"/>
<circle cx="146.49" cy="708.53" r="3.5" fill="#1fa99c"/>
<circle cx="161.22" cy="714.2" r="3.5" fill="#3c4040"/>
<circle cx="177.1" cy="709.66" r="3.5" fill="#1fa99c"/>
<circle cx="191.84" cy="714.2" r="3.5" fill="#3c4040"/>
<circle cx="168.03" cy="722.13" r="3.5" fill="#3c4040"/>
<circle cx="182.77" cy="724.4" r="3.5" fill="#1fa99c"/>
<circle cx="197.51" cy="722.13" r="3.5" fill="#3c4040"/>
<circle cx="154.42" cy="723.27" r="3.5" fill="#1fa99c"/>
<circle cx="153.29" cy="726.67" r="3.5" fill="#3c4040"/>
<circle cx="156.69" cy="734.6" r="3.5" fill="#3c4040"/>
<circle cx="172.56" cy="739.14" r="3.5" fill="#3c4040"/>
<circle cx="186.17" cy="735.74" r="3.5" fill="#3c4040"/>
<circle cx="197.51" cy="740.27" r="3.5" fill="#3c4040"/>
<circle cx="148.75" cy="747.07" r="3.5" fill="#3c4040"/>
<circle cx="163.49" cy="751.61" r="3.5" fill="#1fa99c"/>
<circle cx="177.1" cy="747.07" r="3.5" fill="#3c4040"/>
<circle cx="191.84" cy="752.29" r="3.5" fill="#1fa99c"/>
<path d="M1345.9 650.5 L1403 650.5 L1375 682.8 Z" fill="#f07a22"/>
<path d="M1350.5 709 L1358 707.5 C1364 714 1369 720 1372 727 C1376 721 1383 716 1393 713 L1394 718 C1386 722 1381 727 1379.5 733 L1379.5 750 L1363 751 C1365.5 742 1365.5 734 1362 727 C1359 720 1354 714 1350.5 709 Z" fill="#c46ad8"/>
</g>
<text x="224.7" y="608.8" font-size="33" font-weight="bold" textLength="181" lengthAdjust="spacingAndGlyphs" filter="url(#soft2)">MoS<tspan font-size="21" dy="5.5">2</tspan><tspan dy="-5.5">-NPs</tspan></text>
<text x="241.7" y="678" font-size="33" font-weight="bold" textLength="126" lengthAdjust="spacingAndGlyphs" filter="url(#soft2)">AuNPs</text>
<text x="270" y="742.5" font-size="33" font-weight="bold" textLength="58" lengthAdjust="spacingAndGlyphs" filter="url(#soft2)">GO</text>
<text x="1462" y="677" font-size="30.5" font-weight="bold" textLength="74.5" lengthAdjust="spacingAndGlyphs" filter="url(#soft2)">cTnI</text>
<text x="1446" y="743.6" font-size="30.5" font-weight="bold" textLength="172" lengthAdjust="spacingAndGlyphs" filter="url(#soft2)">mAb-cTnI</text>
<g filter="url(#soft3)">
<line x1="155.8" y1="1134.4" x2="155.8" y2="1510" stroke="#111" stroke-width="1.8"/>
<line x1="154.8" y1="1509" x2="619.4" y2="1509" stroke="#111" stroke-width="1.8"/>
<line x1="148.3" y1="1135.4" x2="155.8" y2="1135.4" stroke="#111" stroke-width="1.8"/>
<text x="143.6" y="1142.9" font-size="21.2" text-anchor="end">-15</text>
<line x1="151.6" y1="1158.75" x2="155.8" y2="1158.75" stroke="#111" stroke-width="1.8"/>
<line x1="148.3" y1="1182.1" x2="155.8" y2="1182.1" stroke="#111" stroke-width="1.8"/>
<text x="143.6" y="1189.6" font-size="21.2" text-anchor="end">-20</text>
<line x1="151.6" y1="1205.45" x2="155.8" y2="1205.45" stroke="#111" stroke-width="1.8"/>
<line x1="148.3" y1="1228.8" x2="155.8" y2="1228.8" stroke="#111" stroke-width="1.8"/>
<text x="143.6" y="1236.3" font-size="21.2" text-anchor="end">-25</text>
<line x1="151.6" y1="1252.15" x2="155.8" y2="1252.15" stroke="#111" stroke-width="1.8"/>
<line x1="148.3" y1="1275.5" x2="155.8" y2="1275.5" stroke="#111" stroke-width="1.8"/>
<text x="143.6" y="1283" font-size="21.2" text-anchor="end">-30</text>
<line x1="151.6" y1="1298.85" x2="155.8" y2="1298.85" stroke="#111" stroke-width="1.8"/>
<line x1="148.3" y1="1322.2" x2="155.8" y2="1322.2" stroke="#111" stroke-width="1.8"/>
<text x="143.6" y="1329.7" font-size="21.2" text-anchor="end">-35</text>
<line x1="151.6" y1="1345.55" x2="155.8" y2="1345.55" stroke="#111" stroke-width="1.8"/>
<line x1="148.3" y1="1368.9" x2="155.8" y2="1368.9" stroke="#111" stroke-width="1.8"/>
<text x="143.6" y="1376.4" font-size="21.2" text-anchor="end">-40</text>
<line x1="151.6" y1="1392.25" x2="155.8" y2="1392.25" stroke="#111" stroke-width="1.8"/>
<line x1="148.3" y1="1415.6" x2="155.8" y2="1415.6" stroke="#111" stroke-width="1.8"/>
<text x="143.6" y="1423.1" font-size="21.2" text-anchor="end">-45</text>
<line x1="151.6" y1="1438.95" x2="155.8" y2="1438.95" stroke="#111" stroke-width="1.8"/>
<line x1="148.3" y1="1462.3" x2="155.8" y2="1462.3" stroke="#111" stroke-width="1.8"/>
<text x="143.6" y="1469.8" font-size="21.2" text-anchor="end">-50</text>
<line x1="151.6" y1="1485.65" x2="155.8" y2="1485.65" stroke="#111" stroke-width="1.8"/>
<line x1="148.3" y1="1509" x2="155.8" y2="1509" stroke="#111" stroke-width="1.8"/>
<text x="143.6" y="1516.5" font-size="21.2" text-anchor="end">-55</text>
<line x1="155.56" y1="1509" x2="155.56" y2="1512.8" stroke="#111" stroke-width="1.8"/>
<line x1="202" y1="1509" x2="202" y2="1515.5" stroke="#111" stroke-width="1.8"/>
<text x="202" y="1538" font-size="20.7" text-anchor="middle">1520</text>
<line x1="248.44" y1="1509" x2="248.44" y2="1512.8" stroke="#111" stroke-width="1.8"/>
<line x1="294.88" y1="1509" x2="294.88" y2="1515.5" stroke="#111" stroke-width="1.8"/>
<text x="294.88" y="1538" font-size="20.7" text-anchor="middle">1525</text>
<line x1="341.31" y1="1509" x2="341.31" y2="1512.8" stroke="#111" stroke-width="1.8"/>
<line x1="387.75" y1="1509" x2="387.75" y2="1515.5" stroke="#111" stroke-width="1.8"/>
<text x="387.75" y="1538" font-size="20.7" text-anchor="middle">1530</text>
<line x1="434.19" y1="1509" x2="434.19" y2="1512.8" stroke="#111" stroke-width="1.8"/>
<line x1="480.62" y1="1509" x2="480.62" y2="1515.5" stroke="#111" stroke-width="1.8"/>
<text x="480.62" y="1538" font-size="20.7" text-anchor="middle">1535</text>
<line x1="527.06" y1="1509" x2="527.06" y2="1512.8" stroke="#111" stroke-width="1.8"/>
<line x1="573.5" y1="1509" x2="573.5" y2="1515.5" stroke="#111" stroke-width="1.8"/>
<text x="573.5" y="1538" font-size="20.7" text-anchor="middle">1540</text>
<line x1="619.94" y1="1509" x2="619.94" y2="1512.8" stroke="#111" stroke-width="1.8"/>
<text x="388" y="1580.6" font-size="31.7" text-anchor="middle">Wavelength (nm)</text>
<text x="88.5" y="1308.5" font-size="31.7" text-anchor="middle" transform="rotate(-90 88.5 1308.5)">Reflection (dBm)</text>
<line x1="201.4" y1="1127.2" x2="249" y2="1127.2" stroke="#5b9fd6" stroke-width="2.2" stroke-dasharray="17 6 3 6"/>
<line x1="201.4" y1="1153" x2="249" y2="1153" stroke="#ff1010" stroke-width="2.6"/>
<text x="255.8" y="1134.3" font-size="21.1">negative sample</text>
<text x="255.8" y="1160.2" font-size="21.1">positive sample</text>
<path d="M202.22 1368.41 C202.39 1365.72 203.24 1351.44 203.66 1345.4 C204.08 1339.36 205.23 1322.34 205.82 1316.63 C206.41 1310.93 208.03 1300.19 208.7 1296.5 C209.37 1292.81 210.94 1286.64 211.57 1284.99 C212.21 1283.35 213.63 1282.23 214.16 1282.4 C214.7 1282.57 215.72 1284.11 216.18 1286.43 C216.63 1288.74 217.58 1297.89 218.05 1302.25 C218.52 1306.61 219.7 1319.12 220.2 1323.82 C220.71 1328.52 221.94 1339.5 222.36 1342.52 C222.78 1345.54 223.46 1350.21 223.8 1349.71 C224.13 1349.21 224.82 1342.9 225.24 1338.21 C225.66 1333.51 226.81 1315.82 227.39 1309.44 C227.98 1303.06 229.43 1288.92 230.27 1283.55 C231.11 1278.18 233.58 1267.11 234.59 1263.42 C235.59 1259.73 238.14 1253.46 238.9 1251.91 C239.65 1250.37 240.55 1249.18 241.06 1250.19 C241.56 1251.19 242.71 1256.65 243.21 1260.54 C243.72 1264.43 244.95 1277.85 245.37 1283.55 C245.79 1289.26 246.47 1302.23 246.81 1309.44 C247.15 1316.66 247.91 1338.18 248.25 1345.4 C248.58 1352.61 249.4 1367.26 249.69 1371.28 C249.97 1375.31 250.44 1380.58 250.69 1379.91 C250.94 1379.24 251.46 1371.24 251.84 1365.53 C252.23 1359.83 253.5 1337.05 254 1331.01 C254.5 1324.97 255.57 1316.78 256.16 1313.76 C256.75 1310.73 258.36 1306.38 259.03 1305.13 C259.71 1303.87 261.32 1303.22 261.91 1302.97 C262.5 1302.72 263.48 1302.21 264.07 1302.97 C264.66 1303.72 266.36 1307.01 266.95 1309.44 C267.53 1311.87 268.6 1319.63 269.1 1323.82 C269.61 1328.02 270.76 1339.86 271.26 1345.4 C271.76 1350.93 272.96 1366.42 273.42 1371.28 C273.87 1376.15 274.77 1387.1 275.14 1387.1 C275.51 1387.1 276.2 1375.31 276.58 1371.28 C276.97 1367.26 277.98 1358.12 278.45 1352.59 C278.92 1347.05 280.1 1330.03 280.61 1323.82 C281.11 1317.61 282.26 1303.74 282.77 1299.37 C283.27 1295.01 284.42 1288.36 284.92 1286.43 C285.43 1284.5 286.58 1282.67 287.08 1282.83 C287.58 1283 288.73 1285.27 289.24 1287.87 C289.74 1290.47 290.98 1300.93 291.4 1305.13 C291.81 1309.32 292.5 1319.12 292.83 1323.82 C293.17 1328.52 293.94 1339.52 294.27 1345.4 C294.61 1351.27 295.37 1367.45 295.71 1374.16 C296.05 1380.87 296.86 1396.21 297.15 1402.93 C297.43 1409.64 297.94 1426.99 298.15 1431.69 C298.37 1436.39 298.8 1444.03 299.02 1443.2 C299.24 1442.36 299.74 1431.71 300.02 1424.5 C300.31 1417.28 301.13 1389.74 301.46 1381.35 C301.8 1372.96 302.57 1358.46 302.9 1352.59 C303.24 1346.71 304 1334.37 304.34 1331.01 C304.67 1327.66 305.44 1323.32 305.78 1323.82 C306.11 1324.33 306.8 1330.29 307.22 1335.33 C307.64 1340.36 308.87 1358.24 309.37 1366.97 C309.88 1375.69 311.16 1403.07 311.53 1410.12 C311.9 1417.16 312.32 1429.05 312.54 1427.38 C312.76 1425.7 313.1 1404.46 313.4 1395.73 C313.7 1387.01 314.59 1362.65 315.13 1352.59 C315.66 1342.52 317.33 1319.51 318 1309.44 C318.67 1299.37 320.21 1274.68 320.88 1266.29 C321.55 1257.9 323.08 1241.89 323.76 1237.53 C324.43 1233.17 326.04 1229.99 326.63 1228.9 C327.22 1227.81 328.29 1227.85 328.79 1228.18 C329.29 1228.52 330.36 1230.77 330.95 1231.78 C331.53 1232.78 333.15 1236.47 333.82 1236.81 C334.49 1237.15 336.03 1237.09 336.7 1234.65 C337.37 1232.22 338.9 1219.65 339.58 1215.96 C340.25 1212.26 341.61 1205.36 342.45 1203.01 C343.29 1200.66 345.76 1197.33 346.77 1195.82 C347.77 1194.31 350.24 1190.99 351.08 1190.07 C351.92 1189.14 353.29 1187.91 353.96 1187.91 C354.63 1187.91 356.08 1188.64 356.83 1190.07 C357.59 1191.49 359.42 1197.11 360.43 1200.14 C361.44 1203.16 364.21 1211.93 365.46 1215.96 C366.72 1219.98 369.87 1229.95 371.22 1234.65 C372.56 1239.35 375.94 1252.87 376.97 1256.23 C377.99 1259.58 379.39 1260.56 380 1263.42 C380.61 1266.27 381.65 1276.15 382.16 1280.68 C382.66 1285.21 383.81 1296.38 384.31 1302.25 C384.82 1308.12 385.97 1324.64 386.47 1331.01 C386.98 1337.39 388.18 1352.71 388.63 1356.9 C389.08 1361.1 389.99 1367.47 390.36 1366.97 C390.72 1366.47 391.41 1357.62 391.79 1352.59 C392.18 1347.55 393.19 1330.2 393.66 1323.82 C394.13 1317.45 395.23 1303.3 395.82 1297.93 C396.41 1292.57 397.94 1280.99 398.7 1277.8 C399.45 1274.61 401.45 1272.03 402.29 1270.61 C403.13 1269.18 405.13 1266.58 405.89 1265.57 C406.64 1264.57 408.18 1261.73 408.76 1261.98 C409.35 1262.23 410.42 1265.22 410.92 1267.73 C411.43 1270.25 412.58 1279.36 413.08 1283.55 C413.58 1287.75 414.73 1299.32 415.24 1303.69 C415.74 1308.05 416.81 1317.59 417.39 1320.95 C417.98 1324.3 419.52 1330.27 420.27 1332.45 C421.03 1334.63 423.03 1338.38 423.87 1339.64 C424.7 1340.9 426.71 1343.24 427.46 1343.24 C428.22 1343.24 429.58 1341.24 430.34 1339.64 C431.09 1338.05 433.09 1331.92 433.93 1329.58 C434.77 1327.23 436.77 1321.35 437.53 1319.51 C438.28 1317.66 439.82 1314.51 440.41 1313.76 C440.99 1313 442.06 1312.53 442.56 1313.04 C443.07 1313.54 444.22 1316.48 444.72 1318.07 C445.22 1319.66 446.37 1325.19 446.88 1326.7 C447.38 1328.21 448.53 1330.51 449.03 1331.01 C449.54 1331.52 450.69 1331.1 451.19 1331.01 C451.7 1330.93 452.85 1329.46 453.35 1330.29 C453.85 1331.13 455 1335.6 455.51 1338.21 C456.01 1340.81 457.16 1348.73 457.66 1352.59 C458.17 1356.45 459.4 1367.43 459.82 1371.28 C460.24 1375.14 460.92 1383.15 461.26 1385.67 C461.6 1388.18 462.36 1392.52 462.7 1392.86 C463.03 1393.19 463.72 1391.56 464.14 1388.54 C464.56 1385.52 465.79 1372 466.29 1366.97 C466.8 1361.94 468.03 1349.17 468.45 1345.4 C468.87 1341.62 469.55 1336.2 469.89 1334.61 C470.22 1333.02 470.99 1331.65 471.33 1331.73 C471.66 1331.82 472.35 1332.9 472.77 1335.33 C473.19 1337.76 474.42 1348.56 474.92 1352.59 C475.43 1356.61 476.58 1367.16 477.08 1369.85 C477.58 1372.53 478.82 1375.43 479.24 1375.6 C479.66 1375.77 480.26 1373.97 480.68 1371.28 C481.1 1368.6 482.33 1358.12 482.83 1352.59 C483.34 1347.05 484.49 1330.03 484.99 1323.82 C485.49 1317.61 486.64 1304.07 487.15 1299.37 C487.65 1294.67 488.8 1286.24 489.31 1283.55 C489.81 1280.87 490.99 1277.37 491.46 1276.36 C491.93 1275.35 492.91 1274.59 493.33 1274.92 C493.75 1275.26 494.61 1277.39 495.06 1279.24 C495.51 1281.08 496.71 1286.38 497.22 1290.74 C497.72 1295.11 498.87 1311.43 499.37 1316.63 C499.88 1321.83 501.03 1331.64 501.53 1335.33 C502.03 1339.02 503.18 1345.92 503.69 1348.27 C504.19 1350.62 505.34 1355.46 505.84 1355.46 C506.35 1355.46 507.5 1351.13 508 1348.27 C508.51 1345.42 509.66 1335.54 510.16 1331.01 C510.66 1326.48 511.73 1314.31 512.32 1309.44 C512.9 1304.57 514.52 1292.41 515.19 1289.31 C515.86 1286.2 517.48 1283.67 518.07 1282.83 C518.66 1281.99 519.72 1281.86 520.23 1282.11 C520.73 1282.37 521.88 1283.98 522.38 1284.99 C522.89 1286 523.95 1289.9 524.54 1290.74 C525.13 1291.58 526.75 1291.93 527.42 1292.18 C528.09 1292.43 529.71 1292.57 530.29 1292.9 C530.88 1293.24 531.95 1293.13 532.45 1295.06 C532.96 1296.99 534.11 1306.42 534.61 1309.44 C535.11 1312.46 536.35 1319.27 536.77 1320.95 C537.19 1322.62 537.79 1323.91 538.21 1323.82 C538.62 1323.74 539.78 1321.15 540.36 1320.23 C540.95 1319.3 542.65 1316.5 543.24 1315.91 C543.83 1315.33 544.89 1314.44 545.4 1315.19 C545.9 1315.95 547.05 1318.86 547.55 1322.38 C548.06 1325.91 549.21 1339.86 549.71 1345.4 C550.21 1350.93 551.36 1364.48 551.87 1369.85 C552.37 1375.22 553.61 1388.06 554.03 1391.42 C554.45 1394.78 555.13 1398.95 555.46 1398.61 C555.8 1398.28 556.48 1393.07 556.9 1388.54 C557.32 1384.01 558.56 1365.15 559.06 1359.78 C559.56 1354.41 560.71 1345.12 561.22 1342.52 C561.72 1339.92 562.87 1337.82 563.37 1337.49 C563.88 1337.15 565.11 1337.88 565.53 1339.64 C565.95 1341.41 566.63 1348.06 566.97 1352.59 C567.31 1357.12 568.07 1373.44 568.41 1378.48 C568.74 1383.51 569.51 1391.37 569.85 1395.73 C570.18 1400.1 570.95 1410.84 571.28 1415.87 C571.62 1420.9 572.55 1436.2 572.72 1438.88" fill="none" stroke="#5b9fd6" stroke-width="2.6" stroke-dasharray="12 3.5 2.5 3.5" stroke-linejoin="round"/>
<path d="M201.22 1447.51 C201.29 1448.85 201.63 1456.75 201.79 1459.02 C201.96 1461.28 202.47 1466.09 202.66 1466.93 C202.84 1467.77 203.21 1468.14 203.38 1466.21 C203.54 1464.28 203.91 1451.06 204.09 1450.39 C204.28 1449.72 204.76 1459.62 204.96 1460.45 C205.16 1461.29 205.55 1461.77 205.82 1457.58 C206.09 1453.38 206.84 1431.71 207.26 1424.5 C207.68 1417.28 208.91 1400.77 209.42 1395.73 C209.92 1390.7 210.99 1387.22 211.57 1381.35 C212.16 1375.48 213.78 1352.95 214.45 1345.4 C215.12 1337.85 216.66 1321.5 217.33 1316.63 C218 1311.77 219.57 1305.62 220.2 1303.69 C220.84 1301.76 222.2 1299.92 222.79 1300.09 C223.38 1300.26 224.67 1303.03 225.24 1305.13 C225.81 1307.22 227.09 1314.55 227.68 1318.07 C228.27 1321.59 229.72 1331.97 230.27 1335.33 C230.82 1338.68 231.92 1346.33 232.43 1346.83 C232.93 1347.34 234.13 1340.99 234.59 1339.64 C235.04 1338.3 235.89 1335.83 236.31 1335.33 C236.73 1334.83 237.79 1336.17 238.18 1335.33 C238.57 1334.49 239.2 1332 239.62 1328.14 C240.04 1324.28 241.19 1308.63 241.78 1302.25 C242.36 1295.87 243.98 1278.52 244.65 1273.48 C245.32 1268.45 246.94 1261.03 247.53 1259.1 C248.12 1257.17 249.15 1256.78 249.69 1256.95 C250.22 1257.11 251.63 1258.61 252.13 1260.54 C252.63 1262.47 253.53 1268.62 254 1273.48 C254.47 1278.35 255.66 1295.54 256.16 1302.25 C256.66 1308.96 257.81 1325.64 258.32 1331.01 C258.82 1336.38 259.97 1346.76 260.47 1348.27 C260.98 1349.78 262.13 1345.13 262.63 1343.96 C263.13 1342.78 264.28 1340.22 264.79 1338.21 C265.29 1336.19 266.44 1330.06 266.95 1326.7 C267.45 1323.34 268.6 1312.46 269.1 1309.44 C269.61 1306.42 270.76 1301.9 271.26 1300.81 C271.76 1299.72 272.91 1300.01 273.42 1300.09 C273.92 1300.18 275.07 1301.61 275.57 1301.53 C276.08 1301.45 277.28 1299.88 277.73 1299.37 C278.18 1298.87 279.04 1296.71 279.46 1297.22 C279.88 1297.72 280.89 1299.74 281.33 1303.69 C281.76 1307.63 282.78 1324.47 283.2 1331.01 C283.62 1337.56 284.59 1355.58 284.92 1359.78 C285.26 1363.97 285.77 1367.81 286.07 1366.97 C286.38 1366.13 287.18 1355.1 287.51 1352.59 C287.85 1350.07 288.58 1348.75 288.95 1345.4 C289.32 1342.04 290.22 1329.36 290.68 1323.82 C291.13 1318.29 292.25 1303.3 292.83 1297.93 C293.42 1292.57 295.04 1281.32 295.71 1277.8 C296.38 1274.28 298 1269.24 298.59 1267.73 C299.17 1266.22 300.24 1264.86 300.74 1264.86 C301.25 1264.86 302.43 1265.55 302.9 1267.73 C303.37 1269.91 304.35 1277.85 304.77 1283.55 C305.19 1289.26 306.13 1308.58 306.5 1316.63 C306.87 1324.69 307.63 1344.2 307.93 1352.59 C308.24 1360.98 308.83 1382.33 309.09 1388.54 C309.34 1394.75 309.81 1404.96 310.09 1405.8 C310.38 1406.64 311.11 1400.26 311.53 1395.73 C311.95 1391.2 313.18 1372.84 313.69 1366.97 C314.19 1361.1 315.34 1348.67 315.84 1345.4 C316.35 1342.12 317.5 1339.76 318 1338.92 C318.51 1338.09 319.74 1337.45 320.16 1338.21 C320.58 1338.96 321.26 1342.38 321.6 1345.4 C321.93 1348.42 322.75 1361.07 323.04 1364.09 C323.32 1367.11 323.79 1371.79 324.04 1371.28 C324.29 1370.78 324.81 1365.32 325.19 1359.78 C325.58 1354.24 326.76 1333.05 327.35 1323.82 C327.94 1314.59 329.56 1289.4 330.23 1280.68 C330.9 1271.95 332.43 1254.4 333.1 1249.03 C333.77 1243.67 335.39 1236.5 335.98 1234.65 C336.57 1232.81 337.63 1232.96 338.14 1233.21 C338.64 1233.47 339.79 1236.31 340.29 1236.81 C340.8 1237.31 341.95 1237.95 342.45 1237.53 C342.96 1237.11 344.02 1235.06 344.61 1233.21 C345.2 1231.37 346.73 1224.9 347.49 1221.71 C348.24 1218.52 350.16 1209.58 351.08 1205.89 C352 1202.2 354.47 1193.17 355.4 1190.07 C356.32 1186.96 358.15 1181.09 358.99 1179.28 C359.83 1177.47 361.8 1175.05 362.59 1174.53 C363.38 1174.01 364.91 1174.18 365.75 1174.82 C366.59 1175.46 368.81 1177.89 369.78 1180 C370.75 1182.11 373.09 1189.25 374.09 1192.94 C375.1 1196.64 377.72 1209.29 378.41 1211.64 C379.1 1213.99 379.56 1211.23 380 1213.08 C380.44 1214.92 381.57 1223.94 382.16 1227.46 C382.74 1230.99 384.36 1238.75 385.03 1243.28 C385.7 1247.81 387.24 1259.41 387.91 1266.29 C388.58 1273.17 390.2 1293.86 390.79 1302.25 C391.37 1310.64 392.44 1330.65 392.94 1338.21 C393.45 1345.76 394.63 1362.1 395.1 1366.97 C395.57 1371.84 396.59 1378.24 396.97 1379.91 C397.36 1381.59 398.04 1382.53 398.41 1381.35 C398.78 1380.18 399.6 1374.04 400.14 1369.85 C400.67 1365.65 402.26 1351.6 403.01 1345.4 C403.77 1339.19 405.77 1323.01 406.61 1316.63 C407.45 1310.26 409.45 1295.78 410.2 1290.74 C410.96 1285.71 412.49 1276.17 413.08 1273.48 C413.67 1270.8 414.77 1268.4 415.24 1267.73 C415.71 1267.06 416.69 1267.23 417.11 1267.73 C417.53 1268.24 418.38 1270.87 418.83 1272.05 C419.29 1273.22 420.49 1277.04 420.99 1277.8 C421.49 1278.55 422.64 1278.18 423.15 1278.52 C423.65 1278.85 424.72 1279.08 425.3 1280.68 C425.89 1282.27 427.51 1287.99 428.18 1292.18 C428.85 1296.38 430.47 1311.26 431.06 1316.63 C431.64 1322 432.76 1334.01 433.21 1338.21 C433.67 1342.4 434.52 1350.57 434.94 1352.59 C435.36 1354.6 436.42 1355.04 436.81 1355.46 C437.2 1355.88 437.91 1356.85 438.25 1356.18 C438.58 1355.51 439.27 1352.65 439.69 1349.71 C440.11 1346.77 441.26 1335.71 441.84 1331.01 C442.43 1326.32 444.05 1313.8 444.72 1309.44 C445.39 1305.08 447.04 1295.8 447.6 1293.62 C448.15 1291.44 449.05 1290.91 449.47 1290.74 C449.89 1290.58 450.74 1291.34 451.19 1292.18 C451.65 1293.02 452.76 1295.92 453.35 1297.93 C453.94 1299.95 455.55 1305.58 456.23 1309.44 C456.9 1313.3 458.43 1326.82 459.1 1331.01 C459.77 1335.21 461.39 1343.13 461.98 1345.4 C462.57 1347.66 463.63 1349.76 464.14 1350.43 C464.64 1351.1 465.71 1350.39 466.29 1351.15 C466.88 1351.9 468.5 1355.06 469.17 1356.9 C469.84 1358.75 471.38 1365.12 472.05 1366.97 C472.72 1368.82 474.42 1371.88 474.92 1372.72 C475.43 1373.56 475.94 1374.66 476.36 1374.16 C476.78 1373.66 478.02 1369.58 478.52 1368.41 C479.02 1367.23 480.17 1365.1 480.68 1364.09 C481.18 1363.09 482.33 1361.96 482.83 1359.78 C483.34 1357.6 484.4 1349.59 484.99 1345.4 C485.58 1341.2 487.11 1328.86 487.87 1323.82 C488.62 1318.79 490.62 1306.11 491.46 1302.25 C492.3 1298.39 494.22 1293.09 495.06 1290.74 C495.9 1288.39 497.9 1283.62 498.65 1282.11 C499.41 1280.6 500.94 1278.14 501.53 1277.8 C502.12 1277.46 503.1 1277.9 503.69 1279.24 C504.27 1280.58 505.89 1285.78 506.56 1289.31 C507.24 1292.83 508.85 1304.57 509.44 1309.44 C510.03 1314.31 511.18 1326.32 511.6 1331.01 C512.02 1335.71 512.7 1346.77 513.04 1349.71 C513.37 1352.65 514.14 1355.85 514.47 1356.18 C514.81 1356.52 515.49 1354.68 515.91 1352.59 C516.33 1350.49 517.48 1343.24 518.07 1338.21 C518.66 1333.17 520.28 1315.48 520.95 1309.44 C521.62 1303.4 523.24 1290.12 523.82 1286.43 C524.41 1282.74 525.48 1278.97 525.98 1277.8 C526.48 1276.62 527.55 1276.36 528.14 1276.36 C528.72 1276.36 530.34 1277.3 531.01 1277.8 C531.69 1278.3 533.22 1279.67 533.89 1280.68 C534.56 1281.68 536.1 1285.42 536.77 1286.43 C537.44 1287.44 538.97 1288.89 539.64 1289.31 C540.31 1289.72 541.93 1289.35 542.52 1290.02 C543.11 1290.7 544.09 1293.13 544.68 1295.06 C545.26 1296.99 546.88 1303.54 547.55 1306.56 C548.22 1309.58 549.76 1317.25 550.43 1320.95 C551.1 1324.64 552.64 1332.84 553.31 1338.21 C553.98 1343.57 555.6 1361.1 556.18 1366.97 C556.77 1372.84 557.84 1383.51 558.34 1388.54 C558.84 1393.58 560.08 1406.26 560.5 1410.12 C560.92 1413.98 561.6 1419.94 561.94 1421.62 C562.27 1423.3 563.04 1424.67 563.37 1424.5 C563.71 1424.33 564.39 1423.54 564.81 1420.18 C565.23 1416.83 566.47 1401.1 566.97 1395.73 C567.47 1390.36 568.62 1378.52 569.13 1374.16 C569.63 1369.8 570.78 1360.94 571.28 1358.34 C571.79 1355.74 573.19 1352.62 573.44 1351.87" fill="none" stroke="#ff1010" stroke-width="2.7" stroke-linejoin="round"/>
<line x1="750.9" y1="1134.4" x2="750.9" y2="1508.6" stroke="#111" stroke-width="1.8"/>
<line x1="749.9" y1="1507.6" x2="1213.3" y2="1507.6" stroke="#111" stroke-width="1.8"/>
<line x1="743.3" y1="1135.4" x2="750.9" y2="1135.4" stroke="#111" stroke-width="1.8"/>
<text x="736" y="1142.6" font-size="20.3" text-anchor="end">-30</text>
<line x1="746.5" y1="1197.45" x2="750.9" y2="1197.45" stroke="#111" stroke-width="1.8"/>
<line x1="743.3" y1="1259.5" x2="750.9" y2="1259.5" stroke="#111" stroke-width="1.8"/>
<text x="736" y="1266.7" font-size="20.3" text-anchor="end">-35</text>
<line x1="746.5" y1="1321.55" x2="750.9" y2="1321.55" stroke="#111" stroke-width="1.8"/>
<line x1="743.3" y1="1383.6" x2="750.9" y2="1383.6" stroke="#111" stroke-width="1.8"/>
<text x="736" y="1390.8" font-size="20.3" text-anchor="end">-40</text>
<line x1="746.5" y1="1445.65" x2="750.9" y2="1445.65" stroke="#111" stroke-width="1.8"/>
<line x1="793" y1="1507.6" x2="793" y2="1514.1" stroke="#111" stroke-width="1.8"/>
<text x="793" y="1536.3" font-size="20.9" text-anchor="middle">1529.0</text>
<line x1="836" y1="1507.6" x2="836" y2="1511.4" stroke="#111" stroke-width="1.8"/>
<line x1="879" y1="1507.6" x2="879" y2="1514.1" stroke="#111" stroke-width="1.8"/>
<text x="879" y="1536.3" font-size="20.9" text-anchor="middle">1529.5</text>
<line x1="922" y1="1507.6" x2="922" y2="1511.4" stroke="#111" stroke-width="1.8"/>
<line x1="965" y1="1507.6" x2="965" y2="1514.1" stroke="#111" stroke-width="1.8"/>
<text x="965" y="1536.3" font-size="20.9" text-anchor="middle">1530.0</text>
<line x1="1008" y1="1507.6" x2="1008" y2="1511.4" stroke="#111" stroke-width="1.8"/>
<line x1="1051" y1="1507.6" x2="1051" y2="1514.1" stroke="#111" stroke-width="1.8"/>
<text x="1051" y="1536.3" font-size="20.9" text-anchor="middle">1530.5</text>
<line x1="1094" y1="1507.6" x2="1094" y2="1511.4" stroke="#111" stroke-width="1.8"/>
<line x1="1137" y1="1507.6" x2="1137" y2="1514.1" stroke="#111" stroke-width="1.8"/>
<text x="1137" y="1536.3" font-size="20.9" text-anchor="middle">1531.0</text>
<line x1="1180" y1="1507.6" x2="1180" y2="1511.4" stroke="#111" stroke-width="1.8"/>
<text x="982.5" y="1580" font-size="31.7" text-anchor="middle">Wavelength (nm)</text>
<text x="682.5" y="1308.5" font-size="31.7" text-anchor="middle" transform="rotate(-90 682.5 1308.5)">Reflection (dBm)</text>
<path d="M900.83 1135.48 C902.02 1136.32 907.25 1140.05 909.76 1141.83 C912.28 1143.6 917.04 1146.39 919.68 1148.77 C922.33 1151.15 927.22 1156.38 929.6 1159.68 C931.98 1162.99 935.42 1169.07 937.54 1173.57 C939.66 1178.07 943.36 1187.59 945.48 1193.41 C947.59 1199.23 951.3 1210.08 953.41 1217.22 C955.53 1224.37 959.23 1238.78 961.35 1246.98 C963.47 1255.19 967.17 1269.74 969.29 1278.73 C971.4 1287.72 975.37 1305.71 977.22 1314.44 C979.07 1323.17 981.59 1336.53 983.17 1344.21 C984.76 1351.88 987.54 1365.63 989.13 1371.98 C990.71 1378.33 993.49 1387.59 995.08 1391.83 C996.67 1396.06 999.44 1401.22 1001.03 1403.73 C1002.62 1406.24 1005.4 1409.22 1006.98 1410.67 C1008.57 1412.13 1011.61 1413.85 1012.94 1414.64 C1014.26 1415.44 1015.85 1416.76 1016.9 1416.63 C1017.96 1416.49 1019.81 1415.11 1020.87 1413.65 C1021.93 1412.2 1023.78 1408.62 1024.84 1405.71 C1025.9 1402.8 1027.75 1396.32 1028.81 1391.83 C1029.87 1387.33 1031.46 1379.13 1032.78 1371.98 C1034.1 1364.84 1037.14 1346.98 1038.73 1338.25 C1040.32 1329.52 1043.1 1314.44 1044.68 1306.51 C1046.27 1298.57 1049.05 1285.61 1050.63 1278.73 C1052.22 1271.85 1055 1261.01 1056.59 1254.92 C1058.17 1248.84 1060.95 1238.65 1062.54 1233.1 C1064.13 1227.54 1066.9 1218.02 1068.49 1213.25 C1070.08 1208.49 1072.59 1201.61 1074.44 1197.38 C1076.3 1193.15 1080.26 1185.08 1082.38 1181.51 C1084.5 1177.94 1088.2 1173.11 1090.32 1170.6 C1092.43 1168.08 1095.87 1164.64 1098.25 1162.66 C1100.63 1160.67 1105.53 1157.43 1108.17 1155.71 C1110.82 1153.99 1115.45 1151.22 1118.1 1149.76 C1120.74 1148.31 1125.37 1146.12 1128.02 1144.8 C1130.66 1143.48 1135.69 1141.08 1137.94 1139.84 C1140.19 1138.6 1143.96 1136.06 1144.88 1135.48" fill="none" stroke="#000" stroke-width="3"/>
<path d="M953.41 1135.48 C954.21 1138.44 957.78 1151.83 959.37 1157.7 C960.95 1163.57 963.73 1173.44 965.32 1179.52 C966.9 1185.61 969.68 1196.46 971.27 1203.33 C972.86 1210.21 975.63 1223.17 977.22 1231.11 C978.81 1239.05 981.59 1253.86 983.17 1262.86 C984.76 1271.85 987.54 1288.78 989.13 1298.57 C990.71 1308.36 993.49 1326.48 995.08 1336.27 C996.67 1346.06 999.44 1362.99 1001.03 1371.98 C1002.62 1380.98 1005.53 1396.59 1006.98 1403.73 C1008.44 1410.87 1010.89 1421.06 1011.94 1425.56 C1013 1430.05 1014.26 1434.81 1014.92 1437.46 C1015.58 1440.11 1016.38 1445.4 1016.9 1445.4 C1017.43 1445.4 1018.1 1440.63 1018.89 1437.46 C1019.68 1434.29 1021.53 1426.35 1022.86 1421.59 C1024.18 1416.83 1026.96 1407.57 1028.81 1401.75 C1030.66 1395.93 1034.63 1385.08 1036.75 1377.94 C1038.86 1370.79 1042.57 1356.11 1044.68 1348.17 C1046.8 1340.24 1050.5 1326.88 1052.62 1318.41 C1054.74 1309.95 1058.44 1293.15 1060.56 1284.68 C1062.67 1276.22 1066.38 1262.86 1068.49 1254.92 C1070.61 1246.98 1074.31 1232.3 1076.43 1225.16 C1078.54 1218.02 1081.98 1207.17 1084.37 1201.35 C1086.75 1195.53 1091.64 1186.01 1094.29 1181.51 C1096.93 1177.01 1101.56 1171.06 1104.21 1167.62 C1106.85 1164.18 1111.48 1158.62 1114.13 1155.71 C1116.77 1152.8 1121.4 1148.17 1124.05 1145.79 C1126.69 1143.41 1132.65 1138.92 1133.97 1137.86" fill="none" stroke="#ff1010" stroke-width="3" stroke-dasharray="13 7"/>
<path d="M977.22 1137.86 C978.02 1140.5 981.59 1152.14 983.17 1157.7 C984.76 1163.25 987.54 1173.17 989.13 1179.52 C990.71 1185.87 993.49 1197.91 995.08 1205.32 C996.67 1212.72 999.44 1226.61 1001.03 1235.08 C1002.62 1243.54 1005.4 1258.76 1006.98 1268.81 C1008.57 1278.86 1011.35 1299.37 1012.94 1310.48 C1014.52 1321.59 1017.3 1341.03 1018.89 1352.14 C1020.48 1363.25 1023.52 1384.29 1024.84 1393.81 C1026.16 1403.33 1027.75 1416.96 1028.81 1423.57 C1029.87 1430.19 1031.72 1438.92 1032.78 1443.41 C1033.84 1447.91 1035.69 1454.79 1036.75 1457.3 C1037.8 1459.81 1039.66 1462 1040.71 1462.26 C1041.77 1462.53 1043.62 1460.21 1044.68 1459.29 C1045.74 1458.36 1047.59 1457.7 1048.65 1455.32 C1049.71 1452.94 1051.3 1446.98 1052.62 1441.43 C1053.94 1435.87 1056.98 1421.32 1058.57 1413.65 C1060.16 1405.98 1062.94 1391.56 1064.52 1383.89 C1066.11 1376.22 1068.89 1362.99 1070.48 1356.11 C1072.06 1349.23 1074.84 1338.65 1076.43 1332.3 C1078.02 1325.95 1080.53 1315.9 1082.38 1308.49 C1084.23 1301.08 1088.2 1284.68 1090.32 1276.75 C1092.43 1268.81 1095.87 1256.64 1098.25 1248.97 C1100.63 1241.3 1105.53 1226.08 1108.17 1219.21 C1110.82 1212.33 1115.45 1202.94 1118.1 1197.38 C1120.74 1191.83 1125.37 1182.3 1128.02 1177.54 C1130.66 1172.78 1135.29 1165.9 1137.94 1161.67 C1140.58 1157.43 1145.48 1149.29 1147.86 1145.79 C1150.24 1142.3 1154.74 1136.85 1155.79 1135.48" fill="none" stroke="#1a1aff" stroke-width="3.4" stroke-dasharray="0.1 11.6" stroke-linecap="round"/>
<path d="M977.22 1135.48 C978.02 1137.38 981.32 1144.68 983.17 1149.76 C985.03 1154.84 988.99 1166.96 991.11 1173.57 C993.23 1180.19 996.93 1191.69 999.05 1199.37 C1001.16 1207.04 1004.87 1222.12 1006.98 1231.11 C1009.1 1240.11 1012.8 1257.3 1014.92 1266.83 C1017.04 1276.35 1020.74 1293.02 1022.86 1302.54 C1024.97 1312.06 1028.94 1330.05 1030.79 1338.25 C1032.65 1346.46 1035.16 1357.43 1036.75 1364.05 C1038.33 1370.66 1041.11 1382.83 1042.7 1387.86 C1044.29 1392.88 1047.06 1399.1 1048.65 1401.75 C1050.24 1404.39 1053.02 1406.9 1054.6 1407.7 C1056.19 1408.49 1059.1 1407.96 1060.56 1407.7 C1062.01 1407.43 1064.19 1407.83 1065.52 1405.71 C1066.84 1403.6 1069.02 1396.06 1070.48 1391.83 C1071.93 1387.59 1074.58 1379.52 1076.43 1373.97 C1078.28 1368.41 1082.25 1356.24 1084.37 1350.16 C1086.48 1344.07 1090.19 1333.89 1092.3 1328.33 C1094.42 1322.78 1097.86 1314.05 1100.24 1308.49 C1102.62 1302.94 1107.51 1292.49 1110.16 1286.67 C1112.8 1280.85 1117.43 1270.13 1120.08 1264.84 C1122.72 1259.55 1127.35 1251.75 1130 1246.98 C1132.65 1242.22 1137.28 1233.89 1139.92 1229.13 C1142.57 1224.37 1147.2 1216.03 1149.84 1211.27 C1152.49 1206.51 1157.12 1198.17 1159.76 1193.41 C1162.41 1188.65 1167.04 1180.05 1169.68 1175.56 C1172.33 1171.06 1176.96 1163.65 1179.6 1159.68 C1182.25 1155.71 1187.28 1148.97 1189.52 1145.79 C1191.77 1142.62 1195.54 1137.2 1196.47 1135.87" fill="none" stroke="#ff10ff" stroke-width="3" stroke-dasharray="14 5 3 5"/>
<line x1="751.5" y1="1392" x2="799.6" y2="1392" stroke="#000" stroke-width="2.6"/>
<line x1="751.5" y1="1418.2" x2="799.6" y2="1418.2" stroke="#ff1010" stroke-width="2.6" stroke-dasharray="14 13"/>
<line x1="753.6" y1="1444.3" x2="799.6" y2="1444.3" stroke="#1a1aff" stroke-width="3.5" stroke-dasharray="0.1 16.5" stroke-linecap="round"/>
<line x1="751.5" y1="1470.4" x2="799.6" y2="1470.4" stroke="#ff10ff" stroke-width="2.6" stroke-dasharray="17 6 3 6"/>
<text x="806" y="1399.8" font-size="21">negative sample 1#</text>
<text x="806" y="1426" font-size="21">negative sample 2#</text>
<text x="806" y="1452.1" font-size="21">positive sample 1#</text>
<text x="806" y="1478.2" font-size="21">positive sample 2#</text>
<line x1="1342.9" y1="1132.5" x2="1342.9" y2="1484.3" stroke="#111" stroke-width="1.8"/>
<line x1="1341.9" y1="1483.3" x2="1779" y2="1483.3" stroke="#111" stroke-width="1.8"/>
<line x1="1335.7" y1="1483" x2="1342.9" y2="1483" stroke="#111" stroke-width="1.7"/>
<text x="1329.5" y="1489.9" font-size="19.2" text-anchor="end">0.0</text>
<line x1="1338.7" y1="1441.65" x2="1342.9" y2="1441.65" stroke="#111" stroke-width="1.7"/>
<line x1="1335.7" y1="1400.3" x2="1342.9" y2="1400.3" stroke="#111" stroke-width="1.7"/>
<text x="1329.5" y="1407.2" font-size="19.2" text-anchor="end">0.1</text>
<line x1="1338.7" y1="1358.95" x2="1342.9" y2="1358.95" stroke="#111" stroke-width="1.7"/>
<line x1="1335.7" y1="1317.6" x2="1342.9" y2="1317.6" stroke="#111" stroke-width="1.7"/>
<text x="1329.5" y="1324.5" font-size="19.2" text-anchor="end">0.2</text>
<line x1="1338.7" y1="1276.25" x2="1342.9" y2="1276.25" stroke="#111" stroke-width="1.7"/>
<line x1="1335.7" y1="1234.9" x2="1342.9" y2="1234.9" stroke="#111" stroke-width="1.7"/>
<text x="1329.5" y="1241.8" font-size="19.2" text-anchor="end">0.3</text>
<line x1="1338.7" y1="1193.55" x2="1342.9" y2="1193.55" stroke="#111" stroke-width="1.7"/>
<line x1="1335.7" y1="1152.2" x2="1342.9" y2="1152.2" stroke="#111" stroke-width="1.7"/>
<text x="1329.5" y="1159.1" font-size="19.2" text-anchor="end">0.4</text>
<line x1="1342.4" y1="1483.3" x2="1342.4" y2="1490.1" stroke="#111" stroke-width="1.6"/>
<line x1="1385.48" y1="1483.3" x2="1385.48" y2="1487.1" stroke="#111" stroke-width="1.6"/>
<line x1="1410.68" y1="1483.3" x2="1410.68" y2="1487.1" stroke="#111" stroke-width="1.6"/>
<line x1="1428.55" y1="1483.3" x2="1428.55" y2="1487.1" stroke="#111" stroke-width="1.6"/>
<line x1="1442.42" y1="1483.3" x2="1442.42" y2="1487.1" stroke="#111" stroke-width="1.6"/>
<line x1="1453.75" y1="1483.3" x2="1453.75" y2="1487.1" stroke="#111" stroke-width="1.6"/>
<line x1="1463.33" y1="1483.3" x2="1463.33" y2="1487.1" stroke="#111" stroke-width="1.6"/>
<line x1="1471.63" y1="1483.3" x2="1471.63" y2="1487.1" stroke="#111" stroke-width="1.6"/>
<line x1="1478.95" y1="1483.3" x2="1478.95" y2="1487.1" stroke="#111" stroke-width="1.6"/>
<line x1="1485.5" y1="1483.3" x2="1485.5" y2="1490.1" stroke="#111" stroke-width="1.6"/>
<line x1="1528.58" y1="1483.3" x2="1528.58" y2="1487.1" stroke="#111" stroke-width="1.6"/>
<line x1="1553.78" y1="1483.3" x2="1553.78" y2="1487.1" stroke="#111" stroke-width="1.6"/>
<line x1="1571.65" y1="1483.3" x2="1571.65" y2="1487.1" stroke="#111" stroke-width="1.6"/>
<line x1="1585.52" y1="1483.3" x2="1585.52" y2="1487.1" stroke="#111" stroke-width="1.6"/>
<line x1="1596.85" y1="1483.3" x2="1596.85" y2="1487.1" stroke="#111" stroke-width="1.6"/>
<line x1="1606.43" y1="1483.3" x2="1606.43" y2="1487.1" stroke="#111" stroke-width="1.6"/>
<line x1="1614.73" y1="1483.3" x2="1614.73" y2="1487.1" stroke="#111" stroke-width="1.6"/>
<line x1="1622.05" y1="1483.3" x2="1622.05" y2="1487.1" stroke="#111" stroke-width="1.6"/>
<line x1="1628.6" y1="1483.3" x2="1628.6" y2="1490.1" stroke="#111" stroke-width="1.6"/>
<line x1="1671.68" y1="1483.3" x2="1671.68" y2="1487.1" stroke="#111" stroke-width="1.6"/>
<line x1="1696.88" y1="1483.3" x2="1696.88" y2="1487.1" stroke="#111" stroke-width="1.6"/>
<line x1="1714.75" y1="1483.3" x2="1714.75" y2="1487.1" stroke="#111" stroke-width="1.6"/>
<line x1="1728.62" y1="1483.3" x2="1728.62" y2="1487.1" stroke="#111" stroke-width="1.6"/>
<line x1="1739.95" y1="1483.3" x2="1739.95" y2="1487.1" stroke="#111" stroke-width="1.6"/>
<line x1="1749.53" y1="1483.3" x2="1749.53" y2="1487.1" stroke="#111" stroke-width="1.6"/>
<line x1="1757.83" y1="1483.3" x2="1757.83" y2="1487.1" stroke="#111" stroke-width="1.6"/>
<line x1="1765.15" y1="1483.3" x2="1765.15" y2="1487.1" stroke="#111" stroke-width="1.6"/>
<line x1="1771.7" y1="1483.3" x2="1771.7" y2="1490.1" stroke="#111" stroke-width="1.6"/>
<text x="1342.4" y="1510.4" font-size="19.2" text-anchor="middle">0.01</text>
<text x="1485.5" y="1510.4" font-size="19.2" text-anchor="middle">0.1</text>
<text x="1628.6" y="1510.4" font-size="19.2" text-anchor="middle">1</text>
<text x="1783.5" y="1510.4" font-size="19.2" text-anchor="end">10</text>
<text x="1560.5" y="1551.8" font-size="29.7" text-anchor="middle">Concentration of cTn-I (ng/ml)</text>
<text x="1293" y="1308" font-size="30.1" text-anchor="middle" transform="rotate(-90 1293 1308)">Wavelength shift (nm)</text>
<line x1="1442.3" y1="1410.5" x2="1734.3" y2="1191.8" stroke="#4a9ed6" stroke-width="2" stroke-dasharray="14 5 3 5"/>
<line x1="1454" y1="1375" x2="1454" y2="1413" stroke="#f05a2a" stroke-width="1.6"/>
<line x1="1449.7" y1="1375" x2="1458.3" y2="1375" stroke="#f05a2a" stroke-width="1.6"/>
<line x1="1449.7" y1="1413" x2="1458.3" y2="1413" stroke="#f05a2a" stroke-width="1.6"/>
<line x1="1502" y1="1337" x2="1502" y2="1366.7" stroke="#f05a2a" stroke-width="1.6"/>
<line x1="1497.7" y1="1337" x2="1506.3" y2="1337" stroke="#f05a2a" stroke-width="1.6"/>
<line x1="1497.7" y1="1366.7" x2="1506.3" y2="1366.7" stroke="#f05a2a" stroke-width="1.6"/>
<line x1="1521.7" y1="1311" x2="1521.7" y2="1382.7" stroke="#f05a2a" stroke-width="1.6"/>
<line x1="1517.4" y1="1311" x2="1526" y2="1311" stroke="#f05a2a" stroke-width="1.6"/>
<line x1="1517.4" y1="1382.7" x2="1526" y2="1382.7" stroke="#f05a2a" stroke-width="1.6"/>
<line x1="1569" y1="1258" x2="1569" y2="1302.4" stroke="#f05a2a" stroke-width="1.6"/>
<line x1="1564.7" y1="1258" x2="1573.3" y2="1258" stroke="#f05a2a" stroke-width="1.6"/>
<line x1="1564.7" y1="1302.4" x2="1573.3" y2="1302.4" stroke="#f05a2a" stroke-width="1.6"/>
<line x1="1616" y1="1271" x2="1616" y2="1282" stroke="#f05a2a" stroke-width="1.6"/>
<line x1="1611.7" y1="1271" x2="1620.3" y2="1271" stroke="#f05a2a" stroke-width="1.6"/>
<line x1="1611.7" y1="1282" x2="1620.3" y2="1282" stroke="#f05a2a" stroke-width="1.6"/>
<line x1="1627" y1="1257" x2="1627" y2="1290.7" stroke="#f05a2a" stroke-width="1.6"/>
<line x1="1622.7" y1="1257" x2="1631.3" y2="1257" stroke="#f05a2a" stroke-width="1.6"/>
<line x1="1622.7" y1="1290.7" x2="1631.3" y2="1290.7" stroke="#f05a2a" stroke-width="1.6"/>
<line x1="1642.5" y1="1244.3" x2="1642.5" y2="1276" stroke="#f05a2a" stroke-width="1.6"/>
<line x1="1638.2" y1="1244.3" x2="1646.8" y2="1244.3" stroke="#f05a2a" stroke-width="1.6"/>
<line x1="1638.2" y1="1276" x2="1646.8" y2="1276" stroke="#f05a2a" stroke-width="1.6"/>
<line x1="1702.5" y1="1214.4" x2="1702.5" y2="1238" stroke="#f05a2a" stroke-width="1.6"/>
<line x1="1698.2" y1="1214.4" x2="1706.8" y2="1214.4" stroke="#f05a2a" stroke-width="1.6"/>
<line x1="1698.2" y1="1238" x2="1706.8" y2="1238" stroke="#f05a2a" stroke-width="1.6"/>
<line x1="1738.6" y1="1172.7" x2="1738.6" y2="1204" stroke="#f05a2a" stroke-width="1.6"/>
<line x1="1734.3" y1="1172.7" x2="1742.9" y2="1172.7" stroke="#f05a2a" stroke-width="1.6"/>
<line x1="1734.3" y1="1204" x2="1742.9" y2="1204" stroke="#f05a2a" stroke-width="1.6"/>
<circle cx="1454" cy="1394" r="7.2" fill="url(#ball)"/>
<circle cx="1502" cy="1351.9" r="7.2" fill="url(#ball)"/>
<circle cx="1521.7" cy="1347.5" r="7.2" fill="url(#ball)"/>
<circle cx="1569" cy="1280.2" r="7.2" fill="url(#ball)"/>
<circle cx="1616" cy="1276.5" r="7.2" fill="url(#ball)"/>
<circle cx="1627" cy="1274.6" r="7.2" fill="url(#ball)"/>
<circle cx="1642.5" cy="1260.7" r="7.2" fill="url(#ball)"/>
<circle cx="1702.5" cy="1225.8" r="7.2" fill="url(#ball)"/>
<circle cx="1738.6" cy="1188.7" r="7.2" fill="url(#ball)"/>
<circle cx="1401.3" cy="1145.5" r="7.2" fill="url(#ball)"/>
<line x1="1377.5" y1="1170.2" x2="1423.8" y2="1170.2" stroke="#4a9ed6" stroke-width="2" stroke-dasharray="16 5 3 5"/>
<text x="1429" y="1152.3" font-size="19.7">Sample</text>
<text x="1429" y="1177" font-size="19.7">Linear fitting</text>
<text x="1526.7" y="1415" font-size="23.1" fill="#f05a2a">Y = 0.259+0.13* lg(x)</text>
<text x="1526.7" y="1447" font-size="23.1" fill="#f05a2a">R<tspan font-size="14" dy="-10">2</tspan><tspan dy="10">= 0.98</tspan></text>
<rect x="213.9" y="1992.26" width="69.8" height="53.04" fill="#e04e0e"/>
<rect x="299.96" y="1936.19" width="69.8" height="109.11" fill="#e04e0e"/>
<rect x="386.02" y="1884.66" width="69.8" height="160.64" fill="#e04e0e"/>
<rect x="472.08" y="1878.6" width="69.8" height="166.7" fill="#e04e0e"/>
<rect x="558.14" y="1796.77" width="69.8" height="248.53" fill="#e04e0e"/>
<rect x="644.2" y="1792.72" width="69.8" height="252.58" fill="#e04e0e"/>
<rect x="730.26" y="1788.68" width="69.8" height="256.62" fill="#e04e0e"/>
<rect x="816.32" y="1772.52" width="69.8" height="272.78" fill="#e04e0e"/>
<rect x="902.38" y="1731.1" width="69.8" height="314.2" fill="#e04e0e"/>
<rect x="988.44" y="1684.62" width="69.8" height="360.68" fill="#e04e0e"/>
<line x1="248.8" y1="1973.53" x2="248.8" y2="2011.57" stroke="#6a560c" stroke-width="2.7"/>
<line x1="241.8" y1="1973.53" x2="255.8" y2="1973.53" stroke="#6a560c" stroke-width="2.7"/>
<line x1="241.8" y1="2011.57" x2="255.8" y2="2011.57" stroke="#6a560c" stroke-width="2.7"/>
<line x1="334.86" y1="1913.67" x2="334.86" y2="1959.82" stroke="#6a560c" stroke-width="2.7"/>
<line x1="327.86" y1="1913.67" x2="341.86" y2="1913.67" stroke="#6a560c" stroke-width="2.7"/>
<line x1="327.86" y1="1959.82" x2="341.86" y2="1959.82" stroke="#6a560c" stroke-width="2.7"/>
<line x1="420.92" y1="1866.9" x2="420.92" y2="1903.07" stroke="#6a560c" stroke-width="2.7"/>
<line x1="413.92" y1="1866.9" x2="427.92" y2="1866.9" stroke="#6a560c" stroke-width="2.7"/>
<line x1="413.92" y1="1903.07" x2="427.92" y2="1903.07" stroke="#6a560c" stroke-width="2.7"/>
<line x1="506.98" y1="1835.72" x2="506.98" y2="1923.02" stroke="#6a560c" stroke-width="2.7"/>
<line x1="499.98" y1="1835.72" x2="513.98" y2="1835.72" stroke="#6a560c" stroke-width="2.7"/>
<line x1="499.98" y1="1923.02" x2="513.98" y2="1923.02" stroke="#6a560c" stroke-width="2.7"/>
<line x1="593.04" y1="1769.62" x2="593.04" y2="1825.12" stroke="#6a560c" stroke-width="2.7"/>
<line x1="586.04" y1="1769.62" x2="600.04" y2="1769.62" stroke="#6a560c" stroke-width="2.7"/>
<line x1="586.04" y1="1825.12" x2="600.04" y2="1825.12" stroke="#6a560c" stroke-width="2.7"/>
<line x1="679.1" y1="1786.46" x2="679.1" y2="1800.17" stroke="#6a560c" stroke-width="2.7"/>
<line x1="672.1" y1="1786.46" x2="686.1" y2="1786.46" stroke="#6a560c" stroke-width="2.7"/>
<line x1="672.1" y1="1800.17" x2="686.1" y2="1800.17" stroke="#6a560c" stroke-width="2.7"/>
<line x1="765.16" y1="1768.99" x2="765.16" y2="1810.15" stroke="#6a560c" stroke-width="2.7"/>
<line x1="758.16" y1="1768.99" x2="772.16" y2="1768.99" stroke="#6a560c" stroke-width="2.7"/>
<line x1="758.16" y1="1810.15" x2="772.16" y2="1810.15" stroke="#6a560c" stroke-width="2.7"/>
<line x1="851.22" y1="1752.78" x2="851.22" y2="1793.32" stroke="#6a560c" stroke-width="2.7"/>
<line x1="844.22" y1="1752.78" x2="858.22" y2="1752.78" stroke="#6a560c" stroke-width="2.7"/>
<line x1="844.22" y1="1793.32" x2="858.22" y2="1793.32" stroke="#6a560c" stroke-width="2.7"/>
<line x1="937.28" y1="1716.61" x2="937.28" y2="1745.3" stroke="#6a560c" stroke-width="2.7"/>
<line x1="930.28" y1="1716.61" x2="944.28" y2="1716.61" stroke="#6a560c" stroke-width="2.7"/>
<line x1="930.28" y1="1745.3" x2="944.28" y2="1745.3" stroke="#6a560c" stroke-width="2.7"/>
<line x1="1023.34" y1="1666.1" x2="1023.34" y2="1704.14" stroke="#6a560c" stroke-width="2.7"/>
<line x1="1016.34" y1="1666.1" x2="1030.34" y2="1666.1" stroke="#6a560c" stroke-width="2.7"/>
<line x1="1016.34" y1="1704.14" x2="1030.34" y2="1704.14" stroke="#6a560c" stroke-width="2.7"/>
<line x1="205.6" y1="1615" x2="205.6" y2="2046.3" stroke="#111" stroke-width="1.8"/>
<line x1="199.6" y1="2045.3" x2="1066.4" y2="2045.3" stroke="#111" stroke-width="1.8"/>
<line x1="196.6" y1="2045.3" x2="205.6" y2="2045.3" stroke="#111" stroke-width="1.7"/>
<text x="192.8" y="2054.1" font-size="24.7" text-anchor="end">0.00</text>
<line x1="200.6" y1="2020.04" x2="205.6" y2="2020.04" stroke="#111" stroke-width="1.7"/>
<line x1="196.6" y1="1994.78" x2="205.6" y2="1994.78" stroke="#111" stroke-width="1.7"/>
<text x="192.8" y="2003.58" font-size="24.7" text-anchor="end">0.05</text>
<line x1="200.6" y1="1969.53" x2="205.6" y2="1969.53" stroke="#111" stroke-width="1.7"/>
<line x1="196.6" y1="1944.27" x2="205.6" y2="1944.27" stroke="#111" stroke-width="1.7"/>
<text x="192.8" y="1953.07" font-size="24.7" text-anchor="end">0.10</text>
<line x1="200.6" y1="1919.01" x2="205.6" y2="1919.01" stroke="#111" stroke-width="1.7"/>
<line x1="196.6" y1="1893.75" x2="205.6" y2="1893.75" stroke="#111" stroke-width="1.7"/>
<text x="192.8" y="1902.55" font-size="24.7" text-anchor="end">0.15</text>
<line x1="200.6" y1="1868.5" x2="205.6" y2="1868.5" stroke="#111" stroke-width="1.7"/>
<line x1="196.6" y1="1843.24" x2="205.6" y2="1843.24" stroke="#111" stroke-width="1.7"/>
<text x="192.8" y="1852.04" font-size="24.7" text-anchor="end">0.20</text>
<line x1="200.6" y1="1817.98" x2="205.6" y2="1817.98" stroke="#111" stroke-width="1.7"/>
<line x1="196.6" y1="1792.72" x2="205.6" y2="1792.72" stroke="#111" stroke-width="1.7"/>
<text x="192.8" y="1801.52" font-size="24.7" text-anchor="end">0.25</text>
<line x1="200.6" y1="1767.47" x2="205.6" y2="1767.47" stroke="#111" stroke-width="1.7"/>
<line x1="196.6" y1="1742.21" x2="205.6" y2="1742.21" stroke="#111" stroke-width="1.7"/>
<text x="192.8" y="1751.01" font-size="24.7" text-anchor="end">0.30</text>
<line x1="200.6" y1="1716.95" x2="205.6" y2="1716.95" stroke="#111" stroke-width="1.7"/>
<line x1="196.6" y1="1691.69" x2="205.6" y2="1691.69" stroke="#111" stroke-width="1.7"/>
<text x="192.8" y="1700.49" font-size="24.7" text-anchor="end">0.35</text>
<line x1="200.6" y1="1666.44" x2="205.6" y2="1666.44" stroke="#111" stroke-width="1.7"/>
<line x1="196.6" y1="1641.18" x2="205.6" y2="1641.18" stroke="#111" stroke-width="1.7"/>
<text x="192.8" y="1649.98" font-size="24.7" text-anchor="end">0.40</text>
<line x1="200.6" y1="1615.92" x2="205.6" y2="1615.92" stroke="#111" stroke-width="1.7"/>
<text x="130.5" y="1831.7" font-size="36.65" text-anchor="middle" transform="rotate(-90 130.5 1831.7)">Wavelength shift (nm)</text>
<text x="212" y="1961.7" font-size="24.3">N 0.05</text>
<text x="296.2" y="1901" font-size="24.3">N 0.06</text>
<text x="464.6" y="1821.4" font-size="24.3" fill="#ff0c0c">P 0.18</text>
<text x="641" y="1772.7" font-size="24.1" fill="#ff0c0c">P 0.81</text>
<text x="810.7" y="1726" font-size="22.7" fill="#ff0c0c">P 1.25</text>
<text x="989.6" y="1654.9" font-size="22.5" fill="#ff0c0c">P 5.8</text>
<text x="382.3" y="2077.7" font-size="24.1" fill="#ff0c0c">P 0.13</text>
<text x="558" y="2076.5" font-size="24.1" fill="#ff0c0c">P 0.38</text>
<text x="731" y="2077.7" font-size="24.1" fill="#ff0c0c">P 0.97</text>
<text x="904.2" y="2076.5" font-size="24.1" fill="#ff0c0c">P 3.24</text>
<text x="217.4" y="1640" font-size="24.3">N<tspan font-family="'Liberation Sans','Noto Serif CJK SC',serif" font-size="16.5" dx="0.5">：</tspan></text>
<text x="258.4" y="1640" font-size="24.3">negative sample (&lt;0.13 ng/ml)</text>
<text x="217.4" y="1670" font-size="24.3" fill="#ff0c0c">P<tspan font-family="'Liberation Sans','Noto Serif CJK SC',serif" font-size="16.5" dx="0.5">：</tspan></text>
<text x="257.6" y="1670" font-size="24.3" fill="#ff0c0c">positive sample (ng/ml)</text>
<rect x="722" y="1617.5" width="55" height="27.5" fill="#e04e0e"/>
<text x="790.7" y="1640" font-size="23.9">Sample</text>
<circle cx="1270.7" cy="2023.3" r="9" fill="#fff" stroke="#f0551a" stroke-width="1.7"/><path d="M1261.7 2023.3 A9 9 0 0 1 1279.7 2023.3 Z" fill="#f0551a" stroke="#f0551a" stroke-width="1.2"/>
<circle cx="1266.02" cy="2023.3" r="9" fill="#fff" stroke="#f0551a" stroke-width="1.7"/><path d="M1257.02 2023.3 A9 9 0 0 1 1275.02 2023.3 Z" fill="#f0551a" stroke="#f0551a" stroke-width="1.2"/>
<circle cx="1266.61" cy="2020.94" r="9" fill="#fff" stroke="#f0551a" stroke-width="1.7"/><path d="M1257.61 2020.94 A9 9 0 0 1 1275.61 2020.94 Z" fill="#f0551a" stroke="#f0551a" stroke-width="1.2"/>
<circle cx="1270.7" cy="2017.65" r="9" fill="#fff" stroke="#f0551a" stroke-width="1.7"/><path d="M1261.7 2017.65 A9 9 0 0 1 1279.7 2017.65 Z" fill="#f0551a" stroke="#f0551a" stroke-width="1.2"/>
<circle cx="1273.63" cy="2013.88" r="9" fill="#fff" stroke="#f0551a" stroke-width="1.7"/><path d="M1264.63 2013.88 A9 9 0 0 1 1282.63 2013.88 Z" fill="#f0551a" stroke="#f0551a" stroke-width="1.2"/>
<circle cx="1273.63" cy="2002.11" r="9" fill="#fff" stroke="#f0551a" stroke-width="1.7"/><path d="M1264.63 2002.11 A9 9 0 0 1 1282.63 2002.11 Z" fill="#f0551a" stroke="#f0551a" stroke-width="1.2"/>
<circle cx="1285.33" cy="2002.11" r="9" fill="#fff" stroke="#f0551a" stroke-width="1.7"/><path d="M1276.33 2002.11 A9 9 0 0 1 1294.33 2002.11 Z" fill="#f0551a" stroke="#f0551a" stroke-width="1.2"/>
<circle cx="1285.33" cy="1978.56" r="9" fill="#fff" stroke="#f0551a" stroke-width="1.7"/><path d="M1276.33 1978.56 A9 9 0 0 1 1294.33 1978.56 Z" fill="#f0551a" stroke="#f0551a" stroke-width="1.2"/>
<circle cx="1285.33" cy="1970.08" r="9" fill="#fff" stroke="#f0551a" stroke-width="1.7"/><path d="M1276.33 1970.08 A9 9 0 0 1 1294.33 1970.08 Z" fill="#f0551a" stroke="#f0551a" stroke-width="1.2"/>
<circle cx="1310.48" cy="1985.62" r="9" fill="#fff" stroke="#f0551a" stroke-width="1.7"/><path d="M1301.48 1985.62 A9 9 0 0 1 1319.48 1985.62 Z" fill="#f0551a" stroke="#f0551a" stroke-width="1.2"/>
<circle cx="1310.48" cy="1978.56" r="9" fill="#fff" stroke="#f0551a" stroke-width="1.7"/><path d="M1301.48 1978.56 A9 9 0 0 1 1319.48 1978.56 Z" fill="#f0551a" stroke="#f0551a" stroke-width="1.2"/>
<circle cx="1319.84" cy="1994.1" r="9" fill="#fff" stroke="#f0551a" stroke-width="1.7"/><path d="M1310.84 1994.1 A9 9 0 0 1 1328.84 1994.1 Z" fill="#f0551a" stroke="#f0551a" stroke-width="1.2"/>
<circle cx="1319.84" cy="1963.01" r="9" fill="#fff" stroke="#f0551a" stroke-width="1.7"/><path d="M1310.84 1963.01 A9 9 0 0 1 1328.84 1963.01 Z" fill="#f0551a" stroke="#f0551a" stroke-width="1.2"/>
<circle cx="1336.22" cy="1984.68" r="9" fill="#fff" stroke="#f0551a" stroke-width="1.7"/><path d="M1327.22 1984.68 A9 9 0 0 1 1345.22 1984.68 Z" fill="#f0551a" stroke="#f0551a" stroke-width="1.2"/>
<circle cx="1336.22" cy="1962.07" r="9" fill="#fff" stroke="#f0551a" stroke-width="1.7"/><path d="M1327.22 1962.07 A9 9 0 0 1 1345.22 1962.07 Z" fill="#f0551a" stroke="#f0551a" stroke-width="1.2"/>
<circle cx="1336.22" cy="1947.94" r="9" fill="#fff" stroke="#f0551a" stroke-width="1.7"/><path d="M1327.22 1947.94 A9 9 0 0 1 1345.22 1947.94 Z" fill="#f0551a" stroke="#f0551a" stroke-width="1.2"/>
<circle cx="1452.64" cy="1929.1" r="9" fill="#fff" stroke="#f0551a" stroke-width="1.7"/><path d="M1443.64 1929.1 A9 9 0 0 1 1461.64 1929.1 Z" fill="#f0551a" stroke="#f0551a" stroke-width="1.2"/>
<circle cx="1452.64" cy="1907.9" r="9" fill="#fff" stroke="#f0551a" stroke-width="1.7"/><path d="M1443.64 1907.9 A9 9 0 0 1 1461.64 1907.9 Z" fill="#f0551a" stroke="#f0551a" stroke-width="1.2"/>
<circle cx="1452.64" cy="1867.87" r="9" fill="#fff" stroke="#f0551a" stroke-width="1.7"/><path d="M1443.64 1867.87 A9 9 0 0 1 1461.64 1867.87 Z" fill="#f0551a" stroke="#f0551a" stroke-width="1.2"/>
<circle cx="1602.4" cy="1826.42" r="9" fill="#fff" stroke="#f0551a" stroke-width="1.7"/><path d="M1593.4 1826.42 A9 9 0 0 1 1611.4 1826.42 Z" fill="#f0551a" stroke="#f0551a" stroke-width="1.2"/>
<circle cx="1602.4" cy="1773.67" r="9" fill="#fff" stroke="#f0551a" stroke-width="1.7"/><path d="M1593.4 1773.67 A9 9 0 0 1 1611.4 1773.67 Z" fill="#f0551a" stroke="#f0551a" stroke-width="1.2"/>
<circle cx="1602.4" cy="1648.86" r="9" fill="#fff" stroke="#f0551a" stroke-width="1.7"/><path d="M1593.4 1648.86 A9 9 0 0 1 1611.4 1648.86 Z" fill="#f0551a" stroke="#f0551a" stroke-width="1.2"/>
<line x1="1234" y1="2048.5" x2="1748.6" y2="1632.4" stroke="#1c3aa0" stroke-width="2.5" stroke-dasharray="15.5 14" stroke-dashoffset="2.7"/>
<circle cx="1299.3" cy="1669" r="9" fill="#fff" stroke="#f0551a" stroke-width="1.7"/><path d="M1290.3 1669 A9 9 0 0 1 1308.3 1669 Z" fill="#f0551a" stroke="#f0551a" stroke-width="1.2"/>
<rect x="1234" y="1624" width="526.2" height="424.5" fill="none" stroke="#111" stroke-width="2"/>
<line x1="1263.1" y1="2048.5" x2="1263.1" y2="2055.5" stroke="#111" stroke-width="1.8"/>
<text x="1263.1" y="2079.3" font-size="23.6" text-anchor="middle">0</text>
<line x1="1292.35" y1="2048.5" x2="1292.35" y2="2052.5" stroke="#111" stroke-width="1.8"/>
<line x1="1292.35" y1="1624" x2="1292.35" y2="1628.5" stroke="#111" stroke-width="1.8"/>
<line x1="1321.6" y1="2048.5" x2="1321.6" y2="2055.5" stroke="#111" stroke-width="1.8"/>
<text x="1321.6" y="2079.3" font-size="23.6" text-anchor="middle">1</text>
<line x1="1350.85" y1="2048.5" x2="1350.85" y2="2052.5" stroke="#111" stroke-width="1.8"/>
<line x1="1350.85" y1="1624" x2="1350.85" y2="1628.5" stroke="#111" stroke-width="1.8"/>
<line x1="1380.1" y1="2048.5" x2="1380.1" y2="2055.5" stroke="#111" stroke-width="1.8"/>
<text x="1380.1" y="2079.3" font-size="23.6" text-anchor="middle">2</text>
<line x1="1409.35" y1="2048.5" x2="1409.35" y2="2052.5" stroke="#111" stroke-width="1.8"/>
<line x1="1409.35" y1="1624" x2="1409.35" y2="1628.5" stroke="#111" stroke-width="1.8"/>
<line x1="1438.6" y1="2048.5" x2="1438.6" y2="2055.5" stroke="#111" stroke-width="1.8"/>
<text x="1438.6" y="2079.3" font-size="23.6" text-anchor="middle">3</text>
<line x1="1467.85" y1="2048.5" x2="1467.85" y2="2052.5" stroke="#111" stroke-width="1.8"/>
<line x1="1467.85" y1="1624" x2="1467.85" y2="1628.5" stroke="#111" stroke-width="1.8"/>
<line x1="1497.1" y1="2048.5" x2="1497.1" y2="2055.5" stroke="#111" stroke-width="1.8"/>
<text x="1497.1" y="2079.3" font-size="23.6" text-anchor="middle">4</text>
<line x1="1526.35" y1="2048.5" x2="1526.35" y2="2052.5" stroke="#111" stroke-width="1.8"/>
<line x1="1526.35" y1="1624" x2="1526.35" y2="1628.5" stroke="#111" stroke-width="1.8"/>
<line x1="1555.6" y1="2048.5" x2="1555.6" y2="2055.5" stroke="#111" stroke-width="1.8"/>
<text x="1555.6" y="2079.3" font-size="23.6" text-anchor="middle">5</text>
<line x1="1584.85" y1="2048.5" x2="1584.85" y2="2052.5" stroke="#111" stroke-width="1.8"/>
<line x1="1584.85" y1="1624" x2="1584.85" y2="1628.5" stroke="#111" stroke-width="1.8"/>
<line x1="1614.1" y1="2048.5" x2="1614.1" y2="2055.5" stroke="#111" stroke-width="1.8"/>
<text x="1614.1" y="2079.3" font-size="23.6" text-anchor="middle">6</text>
<line x1="1643.35" y1="2048.5" x2="1643.35" y2="2052.5" stroke="#111" stroke-width="1.8"/>
<line x1="1643.35" y1="1624" x2="1643.35" y2="1628.5" stroke="#111" stroke-width="1.8"/>
<line x1="1672.6" y1="2048.5" x2="1672.6" y2="2055.5" stroke="#111" stroke-width="1.8"/>
<text x="1672.6" y="2079.3" font-size="23.6" text-anchor="middle">7</text>
<line x1="1701.85" y1="2048.5" x2="1701.85" y2="2052.5" stroke="#111" stroke-width="1.8"/>
<line x1="1701.85" y1="1624" x2="1701.85" y2="1628.5" stroke="#111" stroke-width="1.8"/>
<line x1="1731.1" y1="2048.5" x2="1731.1" y2="2055.5" stroke="#111" stroke-width="1.8"/>
<text x="1731.1" y="2079.3" font-size="23.6" text-anchor="middle">8</text>
<line x1="1225.5" y1="2023.3" x2="1234" y2="2023.3" stroke="#111" stroke-width="1.9"/>
<text x="1219.5" y="2031.7" font-size="23.6" text-anchor="end">0</text>
<line x1="1229.5" y1="1976.2" x2="1234" y2="1976.2" stroke="#111" stroke-width="1.9"/>
<line x1="1755.2" y1="1976.2" x2="1760.2" y2="1976.2" stroke="#111" stroke-width="1.9"/>
<line x1="1225.5" y1="1929.1" x2="1234" y2="1929.1" stroke="#111" stroke-width="1.9"/>
<text x="1219.5" y="1937.5" font-size="23.6" text-anchor="end">2</text>
<line x1="1229.5" y1="1882" x2="1234" y2="1882" stroke="#111" stroke-width="1.9"/>
<line x1="1755.2" y1="1882" x2="1760.2" y2="1882" stroke="#111" stroke-width="1.9"/>
<line x1="1225.5" y1="1834.9" x2="1234" y2="1834.9" stroke="#111" stroke-width="1.9"/>
<text x="1219.5" y="1843.3" font-size="23.6" text-anchor="end">4</text>
<line x1="1229.5" y1="1787.8" x2="1234" y2="1787.8" stroke="#111" stroke-width="1.9"/>
<line x1="1755.2" y1="1787.8" x2="1760.2" y2="1787.8" stroke="#111" stroke-width="1.9"/>
<line x1="1225.5" y1="1740.7" x2="1234" y2="1740.7" stroke="#111" stroke-width="1.9"/>
<text x="1219.5" y="1749.1" font-size="23.6" text-anchor="end">6</text>
<line x1="1229.5" y1="1693.6" x2="1234" y2="1693.6" stroke="#111" stroke-width="1.9"/>
<line x1="1755.2" y1="1693.6" x2="1760.2" y2="1693.6" stroke="#111" stroke-width="1.9"/>
<line x1="1225.5" y1="1646.5" x2="1234" y2="1646.5" stroke="#111" stroke-width="1.9"/>
<text x="1219.5" y="1654.9" font-size="23.6" text-anchor="end">8</text>
<text x="1338.8" y="1679" font-size="27.9">Sample point</text>
<text x="1424" y="1777" font-size="27.6" fill="#1c3aa0">Y = X</text>
<text x="1465" y="1988.5" font-size="27.7">Pearson's r = 0.94</text>
<text x="1499" y="2111.5" font-size="36.4" text-anchor="middle">ChemiLuminescence (ng/ml)</text>
<text x="1194" y="1832" font-size="36.4" text-anchor="middle" transform="rotate(-90 1194 1832)">Sensor results (ng/ml)</text>
</g>
</svg>
</body></html>
